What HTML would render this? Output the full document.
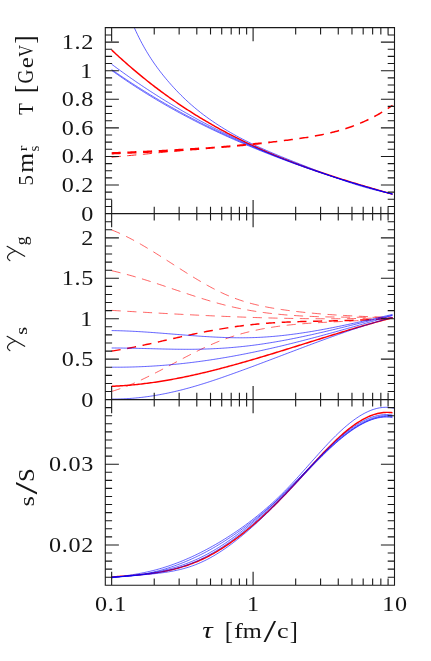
<!DOCTYPE html>
<html><head><meta charset="utf-8"><title>chart</title>
<style>
html,body{margin:0;padding:0;background:#fff;}
body{width:431px;height:661px;overflow:hidden;}
svg{display:block;font-family:"Liberation Serif",serif;}
</style></head><body>
<svg width="431" height="661" viewBox="0 0 431 661">
<defs>
<clipPath id="d1"><rect x="0" y="0" width="205" height="661"/></clipPath>
<clipPath id="d2"><rect x="205" y="0" width="65" height="661"/></clipPath>
<clipPath id="d3"><rect x="270" y="0" width="200" height="661"/></clipPath>
<clipPath id="c1"><rect x="105.3" y="27.6" width="289.2" height="186.0"/></clipPath>
</defs>
<rect width="431" height="661" fill="#fff"/>
<g fill="none" stroke-linecap="butt" stroke-linejoin="round">
<path d="M111.65 49.95L113.15 51.36L114.65 52.77L116.16 54.16L117.66 55.55L119.16 56.92L120.66 58.28L122.16 59.64L123.66 60.98L125.17 62.32L126.67 63.65L128.17 64.96L129.67 66.27L131.17 67.56L132.68 68.85L134.18 70.13L135.68 71.40L137.18 72.66L138.68 73.90L140.19 75.14L141.69 76.38L143.19 77.60L144.69 78.81L146.19 80.01L147.69 81.21L149.20 82.40L150.70 83.57L152.20 84.74L153.70 85.90L155.20 87.05L156.71 88.19L158.21 89.33L159.71 90.45L161.21 91.57L162.71 92.67L164.22 93.77L165.72 94.87L167.22 95.95L168.72 97.02L170.22 98.09L171.72 99.15L173.23 100.20L174.73 101.24L176.23 102.27L177.73 103.30L179.23 104.32L180.74 105.33L182.24 106.33L183.74 107.32L185.24 108.31L186.74 109.29L188.25 110.26L189.75 111.23L191.25 112.18L192.75 113.13L194.25 114.08L195.75 115.01L197.26 115.94L198.76 116.86L200.26 117.77L201.76 118.68L203.26 119.58L204.77 120.47L206.27 121.35L207.77 122.23L209.27 123.10L210.77 123.97L212.28 124.83L213.78 125.68L215.28 126.52L216.78 127.36L218.28 128.19L219.78 129.02L221.29 129.83L222.79 130.65L224.29 131.45L225.79 132.25L227.29 133.04L228.80 133.83L230.30 134.61L231.80 135.39L233.30 136.16L234.80 136.92L236.31 137.68L237.81 138.43L239.31 139.17L240.81 139.91L242.31 140.65L243.81 141.37L245.32 142.10L246.82 142.81L248.32 143.53L249.82 144.23L251.32 144.93L252.83 145.63L254.33 146.32L255.83 147.00L257.33 147.68L258.83 148.36L260.34 149.03L261.84 149.69L263.34 150.35L264.84 151.01L266.34 151.66L267.84 152.30L269.35 152.94L270.85 153.58L272.35 154.21L273.85 154.84L275.35 155.46L276.86 156.08L278.36 156.69L279.86 157.30L281.36 157.90L282.86 158.50L284.37 159.10L285.87 159.69L287.37 160.28L288.87 160.86L290.37 161.44L291.87 162.01L293.38 162.59L294.88 163.15L296.38 163.72L297.88 164.28L299.38 164.83L300.89 165.39L302.39 165.93L303.89 166.48L305.39 167.02L306.89 167.56L308.40 168.10L309.90 168.63L311.40 169.16L312.90 169.68L314.40 170.20L315.90 170.72L317.41 171.24L318.91 171.75L320.41 172.26L321.91 172.77L323.41 173.27L324.92 173.77L326.42 174.27L327.92 174.77L329.42 175.26L330.92 175.75L332.43 176.24L333.93 176.72L335.43 177.21L336.93 177.69L338.43 178.17L339.93 178.64L341.44 179.12L342.94 179.59L344.44 180.06L345.94 180.52L347.44 180.99L348.95 181.45L350.45 181.91L351.95 182.37L353.45 182.83L354.95 183.29L356.46 183.74L357.96 184.19L359.46 184.64L360.96 185.09L362.46 185.54L363.96 185.99L365.47 186.43L366.97 186.88L368.47 187.32L369.97 187.76L371.47 188.20L372.98 188.64L374.48 189.07L375.98 189.51L377.48 189.95L378.98 190.38L380.49 190.81L381.99 191.25L383.49 191.68L384.99 192.11L386.49 192.54L387.99 192.97L389.50 193.40L391.00 193.83L392.50 194.26" stroke="#ff0000" stroke-width="1.45" clip-path="url(#c1)"/>
<path d="M131.50 21.19L133.00 24.73L134.50 28.13L136.00 31.42L137.50 34.58L139.00 37.64L140.50 40.58L142.00 43.42L143.50 46.17L145.00 48.82L146.50 51.38L148.00 53.87L149.50 56.27L151.00 58.60L152.50 60.87L154.00 63.07L155.50 65.20L157.00 67.28L158.50 69.31L160.00 71.29L161.50 73.22L163.00 75.11L164.50 76.96L166.00 78.77L167.50 80.55L169.00 82.30L170.50 84.02L172.00 85.71L173.50 87.36L175.00 88.98L176.50 90.58L178.00 92.14L179.50 93.68L181.00 95.18L182.50 96.66L184.00 98.11L185.50 99.54L187.00 100.94L188.50 102.31L190.00 103.66L191.50 104.98L193.00 106.28L194.50 107.56L196.00 108.81L197.50 110.04L199.00 111.25L200.50 112.44L202.00 113.60L203.50 114.75L205.00 115.88L206.50 116.98L208.00 118.07L209.50 119.14L211.00 120.20L212.50 121.24L214.00 122.26L215.50 123.26L217.00 124.25L218.50 125.22L220.00 126.19L221.50 127.13L223.00 128.07L224.50 128.99L226.00 129.89L227.50 130.79L229.00 131.67L230.50 132.54L232.00 133.40L233.50 134.25L235.00 135.08L236.50 135.91L238.00 136.72L239.50 137.52L241.00 138.32L242.50 139.10L244.00 139.87L245.50 140.63L247.00 141.39L248.50 142.13L250.00 142.87L251.50 143.60L253.00 144.32L254.50 145.03L256.00 145.73L257.50 146.43L259.00 147.12L260.50 147.80L262.00 148.47L263.50 149.14L265.00 149.80L266.50 150.46L268.00 151.11L269.50 151.75L271.00 152.39L272.50 153.03L274.00 153.66L275.50 154.28L277.00 154.91L278.50 155.52L280.00 156.14L281.50 156.75L283.00 157.35L284.50 157.96L286.00 158.56L287.50 159.16L289.00 159.76L290.50 160.35L292.00 160.95L293.50 161.54L295.00 162.13L296.50 162.72L298.00 163.31L299.50 163.90L301.00 164.49L302.50 165.07L304.00 165.66L305.50 166.25L307.00 166.84L308.50 167.42L310.00 168.01L311.50 168.59L313.00 169.18L314.50 169.76L316.00 170.34L317.50 170.92L319.00 171.49L320.50 172.07L322.00 172.64L323.50 173.21L325.00 173.77L326.50 174.34L328.00 174.90L329.50 175.45L331.00 176.01L332.50 176.56L334.00 177.10L335.50 177.65L337.00 178.18L338.50 178.72L340.00 179.25L341.50 179.77L343.00 180.29L344.50 180.81L346.00 181.32L347.50 181.82L349.00 182.32L350.50 182.82L352.00 183.31L353.50 183.79L355.00 184.27L356.50 184.74L358.00 185.20L359.50 185.66L361.00 186.11L362.50 186.55L364.00 186.99L365.50 187.41L367.00 187.84L368.50 188.25L370.00 188.66L371.50 189.05L373.00 189.44L374.50 189.82L376.00 190.20L377.50 190.56L379.00 190.92L380.50 191.26L382.00 191.60L383.50 191.93L385.00 192.25L386.50 192.55L388.00 192.85L389.50 193.14L391.00 193.42L392.50 193.69" stroke="#0000ff" stroke-width="0.62" clip-path="url(#c1)"/>
<path d="M111.65 64.21L113.15 65.33L114.65 66.45L116.16 67.56L117.66 68.67L119.16 69.77L120.66 70.86L122.16 71.95L123.66 73.03L125.17 74.10L126.67 75.17L128.17 76.23L129.67 77.29L131.17 78.34L132.68 79.39L134.18 80.43L135.68 81.46L137.18 82.49L138.68 83.51L140.19 84.53L141.69 85.54L143.19 86.55L144.69 87.55L146.19 88.54L147.69 89.53L149.20 90.51L150.70 91.49L152.20 92.46L153.70 93.43L155.20 94.39L156.71 95.35L158.21 96.30L159.71 97.24L161.21 98.18L162.71 99.11L164.22 100.04L165.72 100.97L167.22 101.89L168.72 102.80L170.22 103.71L171.72 104.61L173.23 105.51L174.73 106.40L176.23 107.29L177.73 108.17L179.23 109.05L180.74 109.92L182.24 110.78L183.74 111.65L185.24 112.50L186.74 113.36L188.25 114.20L189.75 115.05L191.25 115.88L192.75 116.72L194.25 117.54L195.75 118.37L197.26 119.18L198.76 120.00L200.26 120.81L201.76 121.61L203.26 122.41L204.77 123.21L206.27 124.00L207.77 124.78L209.27 125.56L210.77 126.34L212.28 127.11L213.78 127.88L215.28 128.64L216.78 129.40L218.28 130.15L219.78 130.90L221.29 131.65L222.79 132.39L224.29 133.13L225.79 133.86L227.29 134.59L228.80 135.31L230.30 136.03L231.80 136.75L233.30 137.46L234.80 138.16L236.31 138.87L237.81 139.57L239.31 140.26L240.81 140.95L242.31 141.64L243.81 142.32L245.32 143.00L246.82 143.67L248.32 144.35L249.82 145.01L251.32 145.68L252.83 146.33L254.33 146.99L255.83 147.64L257.33 148.29L258.83 148.93L260.34 149.57L261.84 150.21L263.34 150.84L264.84 151.47L266.34 152.10L267.84 152.72L269.35 153.34L270.85 153.95L272.35 154.56L273.85 155.17L275.35 155.78L276.86 156.38L278.36 156.97L279.86 157.57L281.36 158.16L282.86 158.75L284.37 159.33L285.87 159.91L287.37 160.49L288.87 161.06L290.37 161.63L291.87 162.20L293.38 162.76L294.88 163.32L296.38 163.88L297.88 164.44L299.38 164.99L300.89 165.54L302.39 166.08L303.89 166.63L305.39 167.17L306.89 167.70L308.40 168.24L309.90 168.77L311.40 169.30L312.90 169.82L314.40 170.34L315.90 170.86L317.41 171.38L318.91 171.89L320.41 172.40L321.91 172.91L323.41 173.42L324.92 173.92L326.42 174.42L327.92 174.92L329.42 175.41L330.92 175.91L332.43 176.40L333.93 176.88L335.43 177.37L336.93 177.85L338.43 178.33L339.93 178.81L341.44 179.28L342.94 179.76L344.44 180.23L345.94 180.69L347.44 181.16L348.95 181.62L350.45 182.09L351.95 182.54L353.45 183.00L354.95 183.46L356.46 183.91L357.96 184.36L359.46 184.81L360.96 185.25L362.46 185.70L363.96 186.14L365.47 186.58L366.97 187.02L368.47 187.45L369.97 187.89L371.47 188.32L372.98 188.75L374.48 189.18L375.98 189.61L377.48 190.03L378.98 190.45L380.49 190.87L381.99 191.29L383.49 191.71L384.99 192.13L386.49 192.54L387.99 192.95L389.50 193.37L391.00 193.78L392.50 194.18" stroke="#0000ff" stroke-width="0.62" clip-path="url(#c1)"/>
<path d="M111.65 69.55L113.15 70.60L114.65 71.65L116.16 72.69L117.66 73.72L119.16 74.75L120.66 75.77L122.16 76.79L123.66 77.80L125.17 78.80L126.67 79.80L128.17 80.80L129.67 81.79L131.17 82.77L132.68 83.75L134.18 84.72L135.68 85.69L137.18 86.65L138.68 87.61L140.19 88.56L141.69 89.50L143.19 90.44L144.69 91.38L146.19 92.31L147.69 93.24L149.20 94.16L150.70 95.07L152.20 95.98L153.70 96.89L155.20 97.79L156.71 98.68L158.21 99.57L159.71 100.45L161.21 101.33L162.71 102.21L164.22 103.08L165.72 103.95L167.22 104.81L168.72 105.66L170.22 106.51L171.72 107.36L173.23 108.20L174.73 109.04L176.23 109.87L177.73 110.70L179.23 111.52L180.74 112.34L182.24 113.16L183.74 113.97L185.24 114.77L186.74 115.58L188.25 116.37L189.75 117.17L191.25 117.95L192.75 118.74L194.25 119.52L195.75 120.29L197.26 121.07L198.76 121.83L200.26 122.60L201.76 123.35L203.26 124.11L204.77 124.86L206.27 125.61L207.77 126.35L209.27 127.09L210.77 127.82L212.28 128.56L213.78 129.28L215.28 130.01L216.78 130.73L218.28 131.44L219.78 132.15L221.29 132.86L222.79 133.57L224.29 134.27L225.79 134.96L227.29 135.66L228.80 136.35L230.30 137.03L231.80 137.72L233.30 138.40L234.80 139.07L236.31 139.75L237.81 140.41L239.31 141.08L240.81 141.74L242.31 142.40L243.81 143.06L245.32 143.71L246.82 144.36L248.32 145.01L249.82 145.65L251.32 146.29L252.83 146.93L254.33 147.56L255.83 148.19L257.33 148.82L258.83 149.44L260.34 150.06L261.84 150.68L263.34 151.30L264.84 151.91L266.34 152.52L267.84 153.13L269.35 153.73L270.85 154.33L272.35 154.93L273.85 155.52L275.35 156.11L276.86 156.70L278.36 157.29L279.86 157.87L281.36 158.45L282.86 159.03L284.37 159.60L285.87 160.18L287.37 160.74L288.87 161.31L290.37 161.87L291.87 162.43L293.38 162.99L294.88 163.55L296.38 164.10L297.88 164.65L299.38 165.19L300.89 165.74L302.39 166.28L303.89 166.82L305.39 167.35L306.89 167.88L308.40 168.42L309.90 168.94L311.40 169.47L312.90 169.99L314.40 170.51L315.90 171.03L317.41 171.54L318.91 172.05L320.41 172.56L321.91 173.07L323.41 173.57L324.92 174.07L326.42 174.57L327.92 175.07L329.42 175.56L330.92 176.05L332.43 176.54L333.93 177.03L335.43 177.51L336.93 177.99L338.43 178.47L339.93 178.95L341.44 179.42L342.94 179.89L344.44 180.36L345.94 180.83L347.44 181.29L348.95 181.75L350.45 182.21L351.95 182.67L353.45 183.12L354.95 183.57L356.46 184.02L357.96 184.47L359.46 184.91L360.96 185.36L362.46 185.80L363.96 186.23L365.47 186.67L366.97 187.10L368.47 187.53L369.97 187.96L371.47 188.39L372.98 188.81L374.48 189.24L375.98 189.66L377.48 190.07L378.98 190.49L380.49 190.90L381.99 191.31L383.49 191.72L384.99 192.13L386.49 192.53L387.99 192.94L389.50 193.34L391.00 193.73L392.50 194.13" stroke="#0000ff" stroke-width="0.62" clip-path="url(#c1)"/>
<path d="M111.65 70.41L113.15 71.48L114.65 72.54L116.16 73.60L117.66 74.65L119.16 75.69L120.66 76.73L122.16 77.77L123.66 78.79L125.17 79.81L126.67 80.82L128.17 81.83L129.67 82.83L131.17 83.83L132.68 84.82L134.18 85.80L135.68 86.77L137.18 87.75L138.68 88.71L140.19 89.67L141.69 90.62L143.19 91.57L144.69 92.51L146.19 93.45L147.69 94.38L149.20 95.30L150.70 96.22L152.20 97.14L153.70 98.04L155.20 98.95L156.71 99.84L158.21 100.73L159.71 101.62L161.21 102.50L162.71 103.38L164.22 104.25L165.72 105.11L167.22 105.97L168.72 106.83L170.22 107.68L171.72 108.52L173.23 109.36L174.73 110.19L176.23 111.02L177.73 111.85L179.23 112.67L180.74 113.48L182.24 114.29L183.74 115.10L185.24 115.90L186.74 116.69L188.25 117.48L189.75 118.27L191.25 119.05L192.75 119.83L194.25 120.60L195.75 121.37L197.26 122.13L198.76 122.89L200.26 123.64L201.76 124.39L203.26 125.14L204.77 125.88L206.27 126.62L207.77 127.35L209.27 128.08L210.77 128.80L212.28 129.52L213.78 130.24L215.28 130.95L216.78 131.66L218.28 132.36L219.78 133.06L221.29 133.76L222.79 134.45L224.29 135.14L225.79 135.83L227.29 136.51L228.80 137.19L230.30 137.86L231.80 138.53L233.30 139.20L234.80 139.86L236.31 140.52L237.81 141.18L239.31 141.83L240.81 142.48L242.31 143.13L243.81 143.77L245.32 144.41L246.82 145.04L248.32 145.68L249.82 146.31L251.32 146.93L252.83 147.56L254.33 148.18L255.83 148.79L257.33 149.41L258.83 150.02L260.34 150.63L261.84 151.23L263.34 151.83L264.84 152.43L266.34 153.03L267.84 153.62L269.35 154.21L270.85 154.80L272.35 155.39L273.85 155.97L275.35 156.55L276.86 157.12L278.36 157.70L279.86 158.27L281.36 158.84L282.86 159.40L284.37 159.96L285.87 160.52L287.37 161.08L288.87 161.63L290.37 162.19L291.87 162.73L293.38 163.28L294.88 163.82L296.38 164.36L297.88 164.90L299.38 165.44L300.89 165.97L302.39 166.50L303.89 167.03L305.39 167.55L306.89 168.08L308.40 168.60L309.90 169.12L311.40 169.63L312.90 170.14L314.40 170.65L315.90 171.16L317.41 171.67L318.91 172.17L320.41 172.67L321.91 173.17L323.41 173.66L324.92 174.16L326.42 174.65L327.92 175.14L329.42 175.62L330.92 176.11L332.43 176.59L333.93 177.07L335.43 177.55L336.93 178.02L338.43 178.49L339.93 178.96L341.44 179.43L342.94 179.90L344.44 180.36L345.94 180.82L347.44 181.28L348.95 181.74L350.45 182.20L351.95 182.65L353.45 183.10L354.95 183.55L356.46 184.00L357.96 184.44L359.46 184.89L360.96 185.33L362.46 185.77L363.96 186.20L365.47 186.64L366.97 187.07L368.47 187.50L369.97 187.93L371.47 188.36L372.98 188.78L374.48 189.21L375.98 189.63L377.48 190.05L378.98 190.47L380.49 190.88L381.99 191.30L383.49 191.71L384.99 192.12L386.49 192.53L387.99 192.94L389.50 193.34L391.00 193.75L392.50 194.15" stroke="#0000ff" stroke-width="0.62" clip-path="url(#c1)"/>
<path d="M111.65 153.30L113.15 153.24L114.65 153.18L116.16 153.12L117.66 153.06L119.16 153.00L120.66 152.94L122.16 152.88L123.66 152.81L125.17 152.75L126.67 152.69L128.17 152.62L129.67 152.56L131.17 152.49L132.68 152.43L134.18 152.36L135.68 152.29L137.18 152.23L138.68 152.16L140.19 152.09L141.69 152.02L143.19 151.95L144.69 151.88L146.19 151.81L147.69 151.73L149.20 151.66L150.70 151.59L152.20 151.51L153.70 151.44L155.20 151.36L156.71 151.28L158.21 151.21L159.71 151.13L161.21 151.05L162.71 150.97L164.22 150.89L165.72 150.81L167.22 150.72L168.72 150.64L170.22 150.56L171.72 150.47L173.23 150.38L174.73 150.30L176.23 150.21L177.73 150.12L179.23 150.03L180.74 149.94L182.24 149.84L183.74 149.75L185.24 149.66L186.74 149.56L188.25 149.47L189.75 149.37L191.25 149.27L192.75 149.17L194.25 149.07L195.75 148.97L197.26 148.86L198.76 148.76L200.26 148.66L201.76 148.55L203.26 148.44L204.77 148.33L206.27 148.22L207.77 148.11L209.27 148.00L210.77 147.89L212.28 147.77L213.78 147.65L215.28 147.54L216.78 147.42L218.28 147.30L219.78 147.18L221.29 147.05L222.79 146.93L224.29 146.80L225.79 146.68L227.29 146.55L228.80 146.42L230.30 146.29L231.80 146.16L233.30 146.02L234.80 145.89L236.31 145.75L237.81 145.61L239.31 145.47L240.81 145.33L242.31 145.19L243.81 145.04L245.32 144.90L246.82 144.75L248.32 144.60L249.82 144.45L251.32 144.30L252.83 144.15L254.33 143.99L255.83 143.83L257.33 143.68L258.83 143.52L260.34 143.35L261.84 143.19L263.34 143.02L264.84 142.86L266.34 142.69L267.84 142.52L269.35 142.35L270.85 142.17L272.35 142.00L273.85 141.82L275.35 141.64L276.86 141.46L278.36 141.28L279.86 141.09L281.36 140.91L282.86 140.72L284.37 140.53L285.87 140.34L287.37 140.14L288.87 139.95L290.37 139.75L291.87 139.55L293.38 139.35L294.88 139.14L296.38 138.94L297.88 138.73L299.38 138.51L300.89 138.30L302.39 138.08L303.89 137.85L305.39 137.62L306.89 137.39L308.40 137.15L309.90 136.90L311.40 136.65L312.90 136.39L314.40 136.13L315.90 135.86L317.41 135.58L318.91 135.29L320.41 135.00L321.91 134.70L323.41 134.39L324.92 134.07L326.42 133.74L327.92 133.40L329.42 133.06L330.92 132.70L332.43 132.33L333.93 131.95L335.43 131.56L336.93 131.16L338.43 130.75L339.93 130.32L341.44 129.88L342.94 129.43L344.44 128.97L345.94 128.50L347.44 128.00L348.95 127.50L350.45 126.98L351.95 126.45L353.45 125.90L354.95 125.34L356.46 124.76L357.96 124.16L359.46 123.55L360.96 122.93L362.46 122.28L363.96 121.62L365.47 120.94L366.97 120.24L368.47 119.53L369.97 118.80L371.47 118.04L372.98 117.27L374.48 116.48L375.98 115.67L377.48 114.84L378.98 113.99L380.49 113.11L381.99 112.22L383.49 111.31L384.99 110.37L386.49 109.41L387.99 108.43L389.50 107.43L391.00 106.40L392.50 105.35" stroke="#ff0000" stroke-width="2.35" stroke-dasharray="9.1 6.6" clip-path="url(#d1)"/>
<path d="M111.65 153.30L113.15 153.24L114.65 153.18L116.16 153.12L117.66 153.06L119.16 153.00L120.66 152.94L122.16 152.88L123.66 152.81L125.17 152.75L126.67 152.69L128.17 152.62L129.67 152.56L131.17 152.49L132.68 152.43L134.18 152.36L135.68 152.29L137.18 152.23L138.68 152.16L140.19 152.09L141.69 152.02L143.19 151.95L144.69 151.88L146.19 151.81L147.69 151.73L149.20 151.66L150.70 151.59L152.20 151.51L153.70 151.44L155.20 151.36L156.71 151.28L158.21 151.21L159.71 151.13L161.21 151.05L162.71 150.97L164.22 150.89L165.72 150.81L167.22 150.72L168.72 150.64L170.22 150.56L171.72 150.47L173.23 150.38L174.73 150.30L176.23 150.21L177.73 150.12L179.23 150.03L180.74 149.94L182.24 149.84L183.74 149.75L185.24 149.66L186.74 149.56L188.25 149.47L189.75 149.37L191.25 149.27L192.75 149.17L194.25 149.07L195.75 148.97L197.26 148.86L198.76 148.76L200.26 148.66L201.76 148.55L203.26 148.44L204.77 148.33L206.27 148.22L207.77 148.11L209.27 148.00L210.77 147.89L212.28 147.77L213.78 147.65L215.28 147.54L216.78 147.42L218.28 147.30L219.78 147.18L221.29 147.05L222.79 146.93L224.29 146.80L225.79 146.68L227.29 146.55L228.80 146.42L230.30 146.29L231.80 146.16L233.30 146.02L234.80 145.89L236.31 145.75L237.81 145.61L239.31 145.47L240.81 145.33L242.31 145.19L243.81 145.04L245.32 144.90L246.82 144.75L248.32 144.60L249.82 144.45L251.32 144.30L252.83 144.15L254.33 143.99L255.83 143.83L257.33 143.68L258.83 143.52L260.34 143.35L261.84 143.19L263.34 143.02L264.84 142.86L266.34 142.69L267.84 142.52L269.35 142.35L270.85 142.17L272.35 142.00L273.85 141.82L275.35 141.64L276.86 141.46L278.36 141.28L279.86 141.09L281.36 140.91L282.86 140.72L284.37 140.53L285.87 140.34L287.37 140.14L288.87 139.95L290.37 139.75L291.87 139.55L293.38 139.35L294.88 139.14L296.38 138.94L297.88 138.73L299.38 138.51L300.89 138.30L302.39 138.08L303.89 137.85L305.39 137.62L306.89 137.39L308.40 137.15L309.90 136.90L311.40 136.65L312.90 136.39L314.40 136.13L315.90 135.86L317.41 135.58L318.91 135.29L320.41 135.00L321.91 134.70L323.41 134.39L324.92 134.07L326.42 133.74L327.92 133.40L329.42 133.06L330.92 132.70L332.43 132.33L333.93 131.95L335.43 131.56L336.93 131.16L338.43 130.75L339.93 130.32L341.44 129.88L342.94 129.43L344.44 128.97L345.94 128.50L347.44 128.00L348.95 127.50L350.45 126.98L351.95 126.45L353.45 125.90L354.95 125.34L356.46 124.76L357.96 124.16L359.46 123.55L360.96 122.93L362.46 122.28L363.96 121.62L365.47 120.94L366.97 120.24L368.47 119.53L369.97 118.80L371.47 118.04L372.98 117.27L374.48 116.48L375.98 115.67L377.48 114.84L378.98 113.99L380.49 113.11L381.99 112.22L383.49 111.31L384.99 110.37L386.49 109.41L387.99 108.43L389.50 107.43L391.00 106.40L392.50 105.35" stroke="#ff0000" stroke-width="1.95" stroke-dasharray="9.1 6.6" clip-path="url(#d2)"/>
<path d="M111.65 153.30L113.15 153.24L114.65 153.18L116.16 153.12L117.66 153.06L119.16 153.00L120.66 152.94L122.16 152.88L123.66 152.81L125.17 152.75L126.67 152.69L128.17 152.62L129.67 152.56L131.17 152.49L132.68 152.43L134.18 152.36L135.68 152.29L137.18 152.23L138.68 152.16L140.19 152.09L141.69 152.02L143.19 151.95L144.69 151.88L146.19 151.81L147.69 151.73L149.20 151.66L150.70 151.59L152.20 151.51L153.70 151.44L155.20 151.36L156.71 151.28L158.21 151.21L159.71 151.13L161.21 151.05L162.71 150.97L164.22 150.89L165.72 150.81L167.22 150.72L168.72 150.64L170.22 150.56L171.72 150.47L173.23 150.38L174.73 150.30L176.23 150.21L177.73 150.12L179.23 150.03L180.74 149.94L182.24 149.84L183.74 149.75L185.24 149.66L186.74 149.56L188.25 149.47L189.75 149.37L191.25 149.27L192.75 149.17L194.25 149.07L195.75 148.97L197.26 148.86L198.76 148.76L200.26 148.66L201.76 148.55L203.26 148.44L204.77 148.33L206.27 148.22L207.77 148.11L209.27 148.00L210.77 147.89L212.28 147.77L213.78 147.65L215.28 147.54L216.78 147.42L218.28 147.30L219.78 147.18L221.29 147.05L222.79 146.93L224.29 146.80L225.79 146.68L227.29 146.55L228.80 146.42L230.30 146.29L231.80 146.16L233.30 146.02L234.80 145.89L236.31 145.75L237.81 145.61L239.31 145.47L240.81 145.33L242.31 145.19L243.81 145.04L245.32 144.90L246.82 144.75L248.32 144.60L249.82 144.45L251.32 144.30L252.83 144.15L254.33 143.99L255.83 143.83L257.33 143.68L258.83 143.52L260.34 143.35L261.84 143.19L263.34 143.02L264.84 142.86L266.34 142.69L267.84 142.52L269.35 142.35L270.85 142.17L272.35 142.00L273.85 141.82L275.35 141.64L276.86 141.46L278.36 141.28L279.86 141.09L281.36 140.91L282.86 140.72L284.37 140.53L285.87 140.34L287.37 140.14L288.87 139.95L290.37 139.75L291.87 139.55L293.38 139.35L294.88 139.14L296.38 138.94L297.88 138.73L299.38 138.51L300.89 138.30L302.39 138.08L303.89 137.85L305.39 137.62L306.89 137.39L308.40 137.15L309.90 136.90L311.40 136.65L312.90 136.39L314.40 136.13L315.90 135.86L317.41 135.58L318.91 135.29L320.41 135.00L321.91 134.70L323.41 134.39L324.92 134.07L326.42 133.74L327.92 133.40L329.42 133.06L330.92 132.70L332.43 132.33L333.93 131.95L335.43 131.56L336.93 131.16L338.43 130.75L339.93 130.32L341.44 129.88L342.94 129.43L344.44 128.97L345.94 128.50L347.44 128.00L348.95 127.50L350.45 126.98L351.95 126.45L353.45 125.90L354.95 125.34L356.46 124.76L357.96 124.16L359.46 123.55L360.96 122.93L362.46 122.28L363.96 121.62L365.47 120.94L366.97 120.24L368.47 119.53L369.97 118.80L371.47 118.04L372.98 117.27L374.48 116.48L375.98 115.67L377.48 114.84L378.98 113.99L380.49 113.11L381.99 112.22L383.49 111.31L384.99 110.37L386.49 109.41L387.99 108.43L389.50 107.43L391.00 106.40L392.50 105.35" stroke="#ff0000" stroke-width="1.5" stroke-dasharray="9.1 6.6" clip-path="url(#d3)"/>
<path d="M111.65 157.20L113.18 157.06L114.71 156.91L116.23 156.77L117.76 156.63L119.29 156.48L120.82 156.34L122.35 156.20L123.88 156.06L125.40 155.91L126.93 155.77L128.46 155.63L129.99 155.49L131.52 155.34L133.04 155.20L134.57 155.06L136.10 154.92L137.63 154.78L139.16 154.64L140.68 154.49L142.21 154.35L143.74 154.21L145.27 154.06L146.80 153.91L148.32 153.77L149.85 153.61L151.38 153.46L152.91 153.31L154.44 153.15L155.97 153.00L157.49 152.84L159.02 152.69L160.55 152.53L162.08 152.38L163.61 152.23L165.13 152.09L166.66 151.94L168.19 151.80L169.72 151.67L171.25 151.53L172.78 151.40L174.30 151.27L175.83 151.14L177.36 151.02L178.89 150.89L180.42 150.77L181.94 150.65L183.47 150.52L185.00 150.40" stroke="#ff0000" stroke-width="0.9" stroke-dasharray="9.1 6.6"/>
<path d="M111.65 229.93L113.15 230.53L114.65 231.14L116.16 231.77L117.66 232.42L119.16 233.08L120.66 233.76L122.16 234.46L123.66 235.18L125.17 235.90L126.67 236.65L128.17 237.41L129.67 238.18L131.17 238.96L132.68 239.76L134.18 240.57L135.68 241.39L137.18 242.22L138.68 243.07L140.19 243.92L141.69 244.79L143.19 245.66L144.69 246.55L146.19 247.44L147.69 248.34L149.20 249.25L150.70 250.16L152.20 251.08L153.70 252.01L155.20 252.94L156.71 253.88L158.21 254.83L159.71 255.77L161.21 256.73L162.71 257.68L164.22 258.64L165.72 259.60L167.22 260.56L168.72 261.53L170.22 262.49L171.72 263.46L173.23 264.42L174.73 265.39L176.23 266.35L177.73 267.32L179.23 268.28L180.74 269.24L182.24 270.19L183.74 271.15L185.24 272.10L186.74 273.04L188.25 273.98L189.75 274.92L191.25 275.85L192.75 276.77L194.25 277.69L195.75 278.60L197.26 279.50L198.76 280.40L200.26 281.28L201.76 282.16L203.26 283.03L204.77 283.89L206.27 284.74L207.77 285.58L209.27 286.40L210.77 287.22L212.28 288.02L213.78 288.81L215.28 289.58L216.78 290.35L218.28 291.10L219.78 291.83L221.29 292.55L222.79 293.25L224.29 293.94L225.79 294.61L227.29 295.27L228.80 295.90L230.30 296.52L231.80 297.13L233.30 297.71L234.80 298.28L236.31 298.83L237.81 299.36L239.31 299.88L240.81 300.39L242.31 300.88L243.81 301.35L245.32 301.81L246.82 302.26L248.32 302.69L249.82 303.11L251.32 303.52L252.83 303.91L254.33 304.29L255.83 304.67L257.33 305.02L258.83 305.37L260.34 305.71L261.84 306.04L263.34 306.35L264.84 306.66L266.34 306.96L267.84 307.25L269.35 307.53L270.85 307.80L272.35 308.06L273.85 308.32L275.35 308.57L276.86 308.81L278.36 309.05L279.86 309.28L281.36 309.50L282.86 309.72L284.37 309.93L285.87 310.14L287.37 310.35L288.87 310.55L290.37 310.75L291.87 310.94L293.38 311.13L294.88 311.31L296.38 311.49L297.88 311.66L299.38 311.84L300.89 312.00L302.39 312.17L303.89 312.33L305.39 312.48L306.89 312.64L308.40 312.79L309.90 312.93L311.40 313.07L312.90 313.21L314.40 313.35L315.90 313.48L317.41 313.61L318.91 313.74L320.41 313.86L321.91 313.98L323.41 314.10L324.92 314.22L326.42 314.33L327.92 314.44L329.42 314.54L330.92 314.65L332.43 314.75L333.93 314.85L335.43 314.95L336.93 315.04L338.43 315.14L339.93 315.23L341.44 315.31L342.94 315.40L344.44 315.49L345.94 315.57L347.44 315.65L348.95 315.73L350.45 315.81L351.95 315.88L353.45 315.96L354.95 316.03L356.46 316.10L357.96 316.17L359.46 316.24L360.96 316.31L362.46 316.38L363.96 316.44L365.47 316.51L366.97 316.57L368.47 316.63L369.97 316.69L371.47 316.76L372.98 316.82L374.48 316.88L375.98 316.94L377.48 316.99L378.98 317.05L380.49 317.11L381.99 317.17L383.49 317.23L384.99 317.29L386.49 317.34L387.99 317.40L389.50 317.46L391.00 317.52L392.50 317.57" stroke="#ff0000" stroke-width="0.62" stroke-dasharray="9.1 6.6"/>
<path d="M111.65 270.71L113.15 271.04L114.65 271.39L116.16 271.74L117.66 272.10L119.16 272.46L120.66 272.84L122.16 273.22L123.66 273.61L125.17 274.01L126.67 274.41L128.17 274.82L129.67 275.23L131.17 275.65L132.68 276.08L134.18 276.51L135.68 276.95L137.18 277.40L138.68 277.84L140.19 278.30L141.69 278.76L143.19 279.22L144.69 279.69L146.19 280.16L147.69 280.63L149.20 281.11L150.70 281.59L152.20 282.07L153.70 282.56L155.20 283.05L156.71 283.54L158.21 284.04L159.71 284.53L161.21 285.03L162.71 285.53L164.22 286.04L165.72 286.54L167.22 287.04L168.72 287.55L170.22 288.05L171.72 288.56L173.23 289.07L174.73 289.57L176.23 290.08L177.73 290.58L179.23 291.09L180.74 291.59L182.24 292.10L183.74 292.60L185.24 293.10L186.74 293.60L188.25 294.10L189.75 294.59L191.25 295.08L192.75 295.57L194.25 296.06L195.75 296.55L197.26 297.03L198.76 297.51L200.26 297.98L201.76 298.45L203.26 298.92L204.77 299.38L206.27 299.84L207.77 300.29L209.27 300.74L210.77 301.19L212.28 301.63L213.78 302.06L215.28 302.49L216.78 302.91L218.28 303.33L219.78 303.74L221.29 304.14L222.79 304.54L224.29 304.93L225.79 305.31L227.29 305.68L228.80 306.05L230.30 306.41L231.80 306.77L233.30 307.11L234.80 307.45L236.31 307.78L237.81 308.10L239.31 308.41L240.81 308.72L242.31 309.02L243.81 309.31L245.32 309.59L246.82 309.87L248.32 310.14L249.82 310.41L251.32 310.66L252.83 310.91L254.33 311.16L255.83 311.39L257.33 311.62L258.83 311.85L260.34 312.07L261.84 312.28L263.34 312.49L264.84 312.69L266.34 312.88L267.84 313.07L269.35 313.25L270.85 313.43L272.35 313.60L273.85 313.76L275.35 313.93L276.86 314.08L278.36 314.23L279.86 314.38L281.36 314.52L282.86 314.65L284.37 314.78L285.87 314.91L287.37 315.03L288.87 315.15L290.37 315.26L291.87 315.37L293.38 315.47L294.88 315.57L296.38 315.67L297.88 315.76L299.38 315.85L300.89 315.93L302.39 316.01L303.89 316.09L305.39 316.16L306.89 316.23L308.40 316.30L309.90 316.36L311.40 316.42L312.90 316.48L314.40 316.54L315.90 316.59L317.41 316.64L318.91 316.68L320.41 316.73L321.91 316.77L323.41 316.81L324.92 316.84L326.42 316.88L327.92 316.91L329.42 316.94L330.92 316.97L332.43 316.99L333.93 317.02L335.43 317.04L336.93 317.06L338.43 317.08L339.93 317.10L341.44 317.12L342.94 317.13L344.44 317.15L345.94 317.16L347.44 317.17L348.95 317.18L350.45 317.20L351.95 317.21L353.45 317.22L354.95 317.23L356.46 317.23L357.96 317.24L359.46 317.25L360.96 317.26L362.46 317.27L363.96 317.28L365.47 317.29L366.97 317.29L368.47 317.30L369.97 317.31L371.47 317.32L372.98 317.34L374.48 317.35L375.98 317.36L377.48 317.37L378.98 317.39L380.49 317.40L381.99 317.42L383.49 317.44L384.99 317.46L386.49 317.48L387.99 317.50L389.50 317.52L391.00 317.55L392.50 317.58" stroke="#ff0000" stroke-width="0.62" stroke-dasharray="9.1 6.6"/>
<path d="M111.65 310.38L113.15 310.47L114.65 310.56L116.16 310.65L117.66 310.74L119.16 310.83L120.66 310.92L122.16 311.00L123.66 311.09L125.17 311.18L126.67 311.27L128.17 311.36L129.67 311.45L131.17 311.53L132.68 311.62L134.18 311.71L135.68 311.80L137.18 311.88L138.68 311.97L140.19 312.06L141.69 312.15L143.19 312.23L144.69 312.32L146.19 312.40L147.69 312.49L149.20 312.58L150.70 312.66L152.20 312.75L153.70 312.83L155.20 312.92L156.71 313.00L158.21 313.08L159.71 313.17L161.21 313.25L162.71 313.33L164.22 313.42L165.72 313.50L167.22 313.58L168.72 313.66L170.22 313.75L171.72 313.83L173.23 313.91L174.73 313.99L176.23 314.07L177.73 314.15L179.23 314.23L180.74 314.30L182.24 314.38L183.74 314.46L185.24 314.54L186.74 314.62L188.25 314.69L189.75 314.77L191.25 314.84L192.75 314.92L194.25 314.99L195.75 315.07L197.26 315.14L198.76 315.21L200.26 315.29L201.76 315.36L203.26 315.43L204.77 315.50L206.27 315.57L207.77 315.64L209.27 315.71L210.77 315.78L212.28 315.85L213.78 315.92L215.28 315.99L216.78 316.05L218.28 316.12L219.78 316.18L221.29 316.25L222.79 316.31L224.29 316.38L225.79 316.44L227.29 316.50L228.80 316.56L230.30 316.62L231.80 316.68L233.30 316.74L234.80 316.80L236.31 316.86L237.81 316.92L239.31 316.97L240.81 317.03L242.31 317.08L243.81 317.14L245.32 317.19L246.82 317.25L248.32 317.30L249.82 317.35L251.32 317.40L252.83 317.45L254.33 317.50L255.83 317.55L257.33 317.60L258.83 317.64L260.34 317.69L261.84 317.73L263.34 317.78L264.84 317.82L266.34 317.86L267.84 317.90L269.35 317.95L270.85 317.99L272.35 318.02L273.85 318.06L275.35 318.10L276.86 318.14L278.36 318.17L279.86 318.21L281.36 318.24L282.86 318.27L284.37 318.30L285.87 318.33L287.37 318.36L288.87 318.39L290.37 318.42L291.87 318.45L293.38 318.47L294.88 318.50L296.38 318.52L297.88 318.54L299.38 318.56L300.89 318.58L302.39 318.60L303.89 318.62L305.39 318.64L306.89 318.66L308.40 318.67L309.90 318.69L311.40 318.70L312.90 318.71L314.40 318.72L315.90 318.73L317.41 318.74L318.91 318.75L320.41 318.75L321.91 318.76L323.41 318.76L324.92 318.77L326.42 318.77L327.92 318.77L329.42 318.77L330.92 318.77L332.43 318.76L333.93 318.76L335.43 318.75L336.93 318.75L338.43 318.74L339.93 318.73L341.44 318.72L342.94 318.71L344.44 318.69L345.94 318.68L347.44 318.66L348.95 318.65L350.45 318.63L351.95 318.61L353.45 318.59L354.95 318.57L356.46 318.54L357.96 318.52L359.46 318.49L360.96 318.46L362.46 318.44L363.96 318.41L365.47 318.37L366.97 318.34L368.47 318.31L369.97 318.27L371.47 318.23L372.98 318.19L374.48 318.15L375.98 318.11L377.48 318.07L378.98 318.03L380.49 317.98L381.99 317.93L383.49 317.88L384.99 317.83L386.49 317.78L387.99 317.73L389.50 317.67L391.00 317.62L392.50 317.56" stroke="#ff0000" stroke-width="0.62" stroke-dasharray="9.1 6.6"/>
<path d="M111.65 391.42L113.15 390.97L114.65 390.50L116.16 390.02L117.66 389.52L119.16 389.01L120.66 388.48L122.16 387.93L123.66 387.37L125.17 386.80L126.67 386.21L128.17 385.61L129.67 385.00L131.17 384.38L132.68 383.74L134.18 383.09L135.68 382.43L137.18 381.76L138.68 381.08L140.19 380.39L141.69 379.69L143.19 378.98L144.69 378.27L146.19 377.54L147.69 376.81L149.20 376.07L150.70 375.32L152.20 374.57L153.70 373.81L155.20 373.04L156.71 372.27L158.21 371.50L159.71 370.72L161.21 369.94L162.71 369.15L164.22 368.37L165.72 367.57L167.22 366.78L168.72 365.99L170.22 365.19L171.72 364.39L173.23 363.60L174.73 362.80L176.23 362.00L177.73 361.21L179.23 360.41L180.74 359.62L182.24 358.83L183.74 358.04L185.24 357.25L186.74 356.47L188.25 355.70L189.75 354.92L191.25 354.15L192.75 353.39L194.25 352.63L195.75 351.88L197.26 351.13L198.76 350.40L200.26 349.66L201.76 348.94L203.26 348.23L204.77 347.52L206.27 346.82L207.77 346.13L209.27 345.45L210.77 344.79L212.28 344.13L213.78 343.48L215.28 342.85L216.78 342.22L218.28 341.61L219.78 341.02L221.29 340.43L222.79 339.86L224.29 339.30L225.79 338.75L227.29 338.22L228.80 337.70L230.30 337.19L231.80 336.69L233.30 336.21L234.80 335.73L236.31 335.27L237.81 334.82L239.31 334.38L240.81 333.95L242.31 333.53L243.81 333.13L245.32 332.73L246.82 332.34L248.32 331.97L249.82 331.60L251.32 331.24L252.83 330.90L254.33 330.56L255.83 330.23L257.33 329.91L258.83 329.60L260.34 329.30L261.84 329.01L263.34 328.73L264.84 328.45L266.34 328.18L267.84 327.92L269.35 327.67L270.85 327.43L272.35 327.19L273.85 326.96L275.35 326.74L276.86 326.52L278.36 326.31L279.86 326.11L281.36 325.92L282.86 325.73L284.37 325.55L285.87 325.37L287.37 325.20L288.87 325.03L290.37 324.87L291.87 324.72L293.38 324.57L294.88 324.42L296.38 324.28L297.88 324.15L299.38 324.02L300.89 323.89L302.39 323.77L303.89 323.65L305.39 323.54L306.89 323.43L308.40 323.32L309.90 323.22L311.40 323.11L312.90 323.02L314.40 322.92L315.90 322.83L317.41 322.74L318.91 322.65L320.41 322.57L321.91 322.48L323.41 322.40L324.92 322.32L326.42 322.24L327.92 322.16L329.42 322.09L330.92 322.01L332.43 321.94L333.93 321.87L335.43 321.79L336.93 321.72L338.43 321.65L339.93 321.57L341.44 321.50L342.94 321.43L344.44 321.35L345.94 321.28L347.44 321.20L348.95 321.13L350.45 321.05L351.95 320.97L353.45 320.89L354.95 320.81L356.46 320.72L357.96 320.63L359.46 320.55L360.96 320.46L362.46 320.36L363.96 320.27L365.47 320.17L366.97 320.06L368.47 319.96L369.97 319.85L371.47 319.74L372.98 319.62L374.48 319.50L375.98 319.38L377.48 319.25L378.98 319.12L380.49 318.98L381.99 318.84L383.49 318.69L384.99 318.54L386.49 318.38L387.99 318.22L389.50 318.05L391.00 317.88L392.50 317.70" stroke="#ff0000" stroke-width="0.62" stroke-dasharray="9.1 6.6"/>
<path d="M111.65 351.08L113.15 350.85L114.65 350.62L116.16 350.38L117.66 350.13L119.16 349.88L120.66 349.62L122.16 349.36L123.66 349.09L125.17 348.82L126.67 348.54L128.17 348.26L129.67 347.98L131.17 347.69L132.68 347.39L134.18 347.09L135.68 346.79L137.18 346.48L138.68 346.17L140.19 345.86L141.69 345.55L143.19 345.23L144.69 344.91L146.19 344.58L147.69 344.26L149.20 343.93L150.70 343.60L152.20 343.27L153.70 342.93L155.20 342.60L156.71 342.26L158.21 341.93L159.71 341.59L161.21 341.25L162.71 340.91L164.22 340.57L165.72 340.23L167.22 339.89L168.72 339.55L170.22 339.21L171.72 338.87L173.23 338.53L174.73 338.19L176.23 337.86L177.73 337.52L179.23 337.19L180.74 336.86L182.24 336.53L183.74 336.20L185.24 335.87L186.74 335.55L188.25 335.23L189.75 334.91L191.25 334.59L192.75 334.28L194.25 333.96L195.75 333.66L197.26 333.35L198.76 333.05L200.26 332.75L201.76 332.45L203.26 332.15L204.77 331.86L206.27 331.57L207.77 331.29L209.27 331.01L210.77 330.73L212.28 330.45L213.78 330.18L215.28 329.91L216.78 329.65L218.28 329.38L219.78 329.13L221.29 328.87L222.79 328.62L224.29 328.38L225.79 328.13L227.29 327.89L228.80 327.66L230.30 327.43L231.80 327.20L233.30 326.98L234.80 326.76L236.31 326.55L237.81 326.34L239.31 326.14L240.81 325.94L242.31 325.74L243.81 325.55L245.32 325.37L246.82 325.19L248.32 325.01L249.82 324.84L251.32 324.67L252.83 324.51L254.33 324.36L255.83 324.21L257.33 324.06L258.83 323.92L260.34 323.78L261.84 323.65L263.34 323.53L264.84 323.41L266.34 323.29L267.84 323.18L269.35 323.07L270.85 322.96L272.35 322.86L273.85 322.77L275.35 322.68L276.86 322.59L278.36 322.50L279.86 322.42L281.36 322.34L282.86 322.27L284.37 322.19L285.87 322.13L287.37 322.06L288.87 322.00L290.37 321.94L291.87 321.88L293.38 321.82L294.88 321.77L296.38 321.72L297.88 321.67L299.38 321.62L300.89 321.58L302.39 321.53L303.89 321.49L305.39 321.45L306.89 321.42L308.40 321.38L309.90 321.34L311.40 321.31L312.90 321.27L314.40 321.24L315.90 321.21L317.41 321.18L318.91 321.15L320.41 321.12L321.91 321.09L323.41 321.06L324.92 321.03L326.42 321.00L327.92 320.97L329.42 320.94L330.92 320.91L332.43 320.87L333.93 320.84L335.43 320.81L336.93 320.78L338.43 320.74L339.93 320.71L341.44 320.67L342.94 320.64L344.44 320.60L345.94 320.56L347.44 320.51L348.95 320.47L350.45 320.43L351.95 320.38L353.45 320.33L354.95 320.28L356.46 320.22L357.96 320.17L359.46 320.11L360.96 320.05L362.46 319.98L363.96 319.92L365.47 319.85L366.97 319.78L368.47 319.70L369.97 319.62L371.47 319.54L372.98 319.45L374.48 319.36L375.98 319.27L377.48 319.17L378.98 319.07L380.49 318.97L381.99 318.86L383.49 318.74L384.99 318.63L386.49 318.50L387.99 318.38L389.50 318.25L391.00 318.11L392.50 317.97" stroke="#ff0000" stroke-width="1.45" stroke-dasharray="9.1 6.6"/>
<path d="M111.65 386.29L113.15 386.23L114.65 386.16L116.16 386.09L117.66 386.01L119.16 385.93L120.66 385.84L122.16 385.74L123.66 385.64L125.17 385.53L126.67 385.41L128.17 385.29L129.67 385.17L131.17 385.03L132.68 384.90L134.18 384.75L135.68 384.60L137.18 384.45L138.68 384.29L140.19 384.12L141.69 383.95L143.19 383.77L144.69 383.59L146.19 383.40L147.69 383.21L149.20 383.01L150.70 382.80L152.20 382.60L153.70 382.38L155.20 382.16L156.71 381.94L158.21 381.71L159.71 381.48L161.21 381.24L162.71 380.99L164.22 380.75L165.72 380.49L167.22 380.24L168.72 379.97L170.22 379.71L171.72 379.44L173.23 379.16L174.73 378.88L176.23 378.60L177.73 378.31L179.23 378.02L180.74 377.72L182.24 377.42L183.74 377.11L185.24 376.81L186.74 376.49L188.25 376.18L189.75 375.85L191.25 375.53L192.75 375.20L194.25 374.87L195.75 374.53L197.26 374.19L198.76 373.85L200.26 373.50L201.76 373.15L203.26 372.80L204.77 372.44L206.27 372.08L207.77 371.72L209.27 371.35L210.77 370.98L212.28 370.61L213.78 370.23L215.28 369.86L216.78 369.47L218.28 369.09L219.78 368.70L221.29 368.31L222.79 367.92L224.29 367.52L225.79 367.12L227.29 366.72L228.80 366.31L230.30 365.91L231.80 365.50L233.30 365.09L234.80 364.67L236.31 364.26L237.81 363.84L239.31 363.42L240.81 362.99L242.31 362.57L243.81 362.14L245.32 361.71L246.82 361.28L248.32 360.84L249.82 360.41L251.32 359.97L252.83 359.53L254.33 359.09L255.83 358.65L257.33 358.21L258.83 357.76L260.34 357.31L261.84 356.86L263.34 356.41L264.84 355.96L266.34 355.51L267.84 355.06L269.35 354.60L270.85 354.14L272.35 353.69L273.85 353.23L275.35 352.77L276.86 352.31L278.36 351.84L279.86 351.38L281.36 350.92L282.86 350.45L284.37 349.99L285.87 349.52L287.37 349.06L288.87 348.59L290.37 348.12L291.87 347.65L293.38 347.18L294.88 346.72L296.38 346.25L297.88 345.78L299.38 345.31L300.89 344.84L302.39 344.37L303.89 343.90L305.39 343.43L306.89 342.96L308.40 342.48L309.90 342.01L311.40 341.54L312.90 341.07L314.40 340.60L315.90 340.14L317.41 339.67L318.91 339.20L320.41 338.73L321.91 338.26L323.41 337.79L324.92 337.33L326.42 336.86L327.92 336.40L329.42 335.93L330.92 335.47L332.43 335.01L333.93 334.54L335.43 334.08L336.93 333.62L338.43 333.16L339.93 332.71L341.44 332.25L342.94 331.79L344.44 331.34L345.94 330.89L347.44 330.43L348.95 329.98L350.45 329.54L351.95 329.09L353.45 328.64L354.95 328.20L356.46 327.76L357.96 327.31L359.46 326.88L360.96 326.44L362.46 326.00L363.96 325.57L365.47 325.14L366.97 324.71L368.47 324.28L369.97 323.85L371.47 323.43L372.98 323.01L374.48 322.59L375.98 322.17L377.48 321.76L378.98 321.35L380.49 320.94L381.99 320.53L383.49 320.12L384.99 319.72L386.49 319.32L387.99 318.93L389.50 318.53L391.00 318.14L392.50 317.75" stroke="#ff0000" stroke-width="1.45"/>
<path d="M111.65 330.60L113.15 330.62L114.65 330.64L116.16 330.67L117.66 330.70L119.16 330.74L120.66 330.79L122.16 330.83L123.66 330.88L125.17 330.94L126.67 331.00L128.17 331.06L129.67 331.13L131.17 331.20L132.68 331.27L134.18 331.35L135.68 331.43L137.18 331.51L138.68 331.60L140.19 331.69L141.69 331.78L143.19 331.88L144.69 331.97L146.19 332.07L147.69 332.18L149.20 332.28L150.70 332.39L152.20 332.49L153.70 332.60L155.20 332.71L156.71 332.83L158.21 332.94L159.71 333.06L161.21 333.17L162.71 333.29L164.22 333.41L165.72 333.53L167.22 333.65L168.72 333.77L170.22 333.89L171.72 334.01L173.23 334.13L174.73 334.25L176.23 334.37L177.73 334.49L179.23 334.61L180.74 334.73L182.24 334.85L183.74 334.97L185.24 335.09L186.74 335.21L188.25 335.32L189.75 335.44L191.25 335.55L192.75 335.66L194.25 335.77L195.75 335.88L197.26 335.99L198.76 336.10L200.26 336.20L201.76 336.30L203.26 336.40L204.77 336.50L206.27 336.59L207.77 336.68L209.27 336.77L210.77 336.86L212.28 336.94L213.78 337.02L215.28 337.10L216.78 337.17L218.28 337.24L219.78 337.31L221.29 337.37L222.79 337.43L224.29 337.49L225.79 337.54L227.29 337.58L228.80 337.63L230.30 337.66L231.80 337.70L233.30 337.73L234.80 337.75L236.31 337.77L237.81 337.78L239.31 337.79L240.81 337.80L242.31 337.79L243.81 337.79L245.32 337.77L246.82 337.75L248.32 337.73L249.82 337.70L251.32 337.66L252.83 337.62L254.33 337.57L255.83 337.51L257.33 337.45L258.83 337.38L260.34 337.31L261.84 337.23L263.34 337.14L264.84 337.04L266.34 336.95L267.84 336.84L269.35 336.73L270.85 336.61L272.35 336.49L273.85 336.36L275.35 336.22L276.86 336.08L278.36 335.94L279.86 335.79L281.36 335.63L282.86 335.47L284.37 335.30L285.87 335.13L287.37 334.95L288.87 334.77L290.37 334.58L291.87 334.39L293.38 334.20L294.88 333.99L296.38 333.79L297.88 333.58L299.38 333.36L300.89 333.14L302.39 332.92L303.89 332.69L305.39 332.46L306.89 332.23L308.40 331.99L309.90 331.74L311.40 331.50L312.90 331.24L314.40 330.99L315.90 330.73L317.41 330.47L318.91 330.20L320.41 329.93L321.91 329.66L323.41 329.38L324.92 329.10L326.42 328.82L327.92 328.54L329.42 328.25L330.92 327.96L332.43 327.66L333.93 327.37L335.43 327.07L336.93 326.77L338.43 326.46L339.93 326.15L341.44 325.84L342.94 325.53L344.44 325.22L345.94 324.90L347.44 324.58L348.95 324.26L350.45 323.94L351.95 323.62L353.45 323.29L354.95 322.96L356.46 322.63L357.96 322.30L359.46 321.97L360.96 321.64L362.46 321.30L363.96 320.96L365.47 320.63L366.97 320.29L368.47 319.95L369.97 319.61L371.47 319.26L372.98 318.92L374.48 318.58L375.98 318.23L377.48 317.89L378.98 317.54L380.49 317.20L381.99 316.85L383.49 316.50L384.99 316.16L386.49 315.81L387.99 315.46L389.50 315.11L391.00 314.77L392.50 314.42" stroke="#0000ff" stroke-width="0.62"/>
<path d="M111.65 347.99L113.15 347.99L114.65 347.99L116.16 348.00L117.66 348.01L119.16 348.02L120.66 348.04L122.16 348.06L123.66 348.08L125.17 348.10L126.67 348.12L128.17 348.15L129.67 348.18L131.17 348.21L132.68 348.24L134.18 348.27L135.68 348.30L137.18 348.34L138.68 348.38L140.19 348.41L141.69 348.45L143.19 348.49L144.69 348.53L146.19 348.57L147.69 348.61L149.20 348.64L150.70 348.68L152.20 348.72L153.70 348.76L155.20 348.80L156.71 348.84L158.21 348.88L159.71 348.92L161.21 348.95L162.71 348.99L164.22 349.02L165.72 349.05L167.22 349.08L168.72 349.11L170.22 349.14L171.72 349.17L173.23 349.19L174.73 349.22L176.23 349.24L177.73 349.26L179.23 349.27L180.74 349.28L182.24 349.29L183.74 349.30L185.24 349.31L186.74 349.31L188.25 349.31L189.75 349.30L191.25 349.30L192.75 349.29L194.25 349.27L195.75 349.25L197.26 349.23L198.76 349.20L200.26 349.17L201.76 349.14L203.26 349.10L204.77 349.05L206.27 349.01L207.77 348.95L209.27 348.90L210.77 348.84L212.28 348.77L213.78 348.70L215.28 348.63L216.78 348.55L218.28 348.47L219.78 348.38L221.29 348.29L222.79 348.19L224.29 348.09L225.79 347.99L227.29 347.88L228.80 347.76L230.30 347.65L231.80 347.52L233.30 347.40L234.80 347.26L236.31 347.13L237.81 346.98L239.31 346.84L240.81 346.69L242.31 346.53L243.81 346.37L245.32 346.21L246.82 346.04L248.32 345.86L249.82 345.68L251.32 345.50L252.83 345.31L254.33 345.11L255.83 344.92L257.33 344.71L258.83 344.50L260.34 344.29L261.84 344.07L263.34 343.85L264.84 343.62L266.34 343.39L267.84 343.15L269.35 342.91L270.85 342.67L272.35 342.42L273.85 342.17L275.35 341.91L276.86 341.65L278.36 341.39L279.86 341.12L281.36 340.85L282.86 340.57L284.37 340.29L285.87 340.01L287.37 339.72L288.87 339.43L290.37 339.14L291.87 338.84L293.38 338.54L294.88 338.24L296.38 337.93L297.88 337.63L299.38 337.31L300.89 337.00L302.39 336.68L303.89 336.36L305.39 336.04L306.89 335.71L308.40 335.39L309.90 335.06L311.40 334.72L312.90 334.39L314.40 334.05L315.90 333.71L317.41 333.37L318.91 333.03L320.41 332.68L321.91 332.34L323.41 331.99L324.92 331.64L326.42 331.29L327.92 330.93L329.42 330.58L330.92 330.22L332.43 329.86L333.93 329.50L335.43 329.14L336.93 328.78L338.43 328.42L339.93 328.05L341.44 327.69L342.94 327.32L344.44 326.96L345.94 326.59L347.44 326.22L348.95 325.85L350.45 325.48L351.95 325.11L353.45 324.74L354.95 324.37L356.46 324.00L357.96 323.63L359.46 323.26L360.96 322.89L362.46 322.52L363.96 322.15L365.47 321.78L366.97 321.41L368.47 321.04L369.97 320.67L371.47 320.30L372.98 319.93L374.48 319.56L375.98 319.19L377.48 318.82L378.98 318.46L380.49 318.09L381.99 317.73L383.49 317.36L384.99 317.00L386.49 316.64L387.99 316.28L389.50 315.92L391.00 315.56L392.50 315.21" stroke="#0000ff" stroke-width="0.62"/>
<path d="M111.65 367.17L113.15 367.19L114.65 367.19L116.16 367.20L117.66 367.20L119.16 367.19L120.66 367.19L122.16 367.18L123.66 367.16L125.17 367.14L126.67 367.12L128.17 367.09L129.67 367.06L131.17 367.02L132.68 366.98L134.18 366.94L135.68 366.89L137.18 366.84L138.68 366.78L140.19 366.72L141.69 366.66L143.19 366.60L144.69 366.52L146.19 366.45L147.69 366.37L149.20 366.29L150.70 366.21L152.20 366.12L153.70 366.02L155.20 365.93L156.71 365.83L158.21 365.72L159.71 365.61L161.21 365.50L162.71 365.39L164.22 365.27L165.72 365.15L167.22 365.02L168.72 364.89L170.22 364.76L171.72 364.62L173.23 364.48L174.73 364.34L176.23 364.19L177.73 364.04L179.23 363.88L180.74 363.73L182.24 363.57L183.74 363.40L185.24 363.23L186.74 363.06L188.25 362.89L189.75 362.71L191.25 362.53L192.75 362.34L194.25 362.15L195.75 361.96L197.26 361.76L198.76 361.57L200.26 361.36L201.76 361.16L203.26 360.95L204.77 360.74L206.27 360.52L207.77 360.30L209.27 360.08L210.77 359.86L212.28 359.63L213.78 359.40L215.28 359.16L216.78 358.93L218.28 358.69L219.78 358.44L221.29 358.20L222.79 357.95L224.29 357.69L225.79 357.44L227.29 357.18L228.80 356.91L230.30 356.65L231.80 356.38L233.30 356.11L234.80 355.84L236.31 355.56L237.81 355.28L239.31 354.99L240.81 354.71L242.31 354.42L243.81 354.13L245.32 353.83L246.82 353.53L248.32 353.23L249.82 352.93L251.32 352.62L252.83 352.31L254.33 352.00L255.83 351.68L257.33 351.37L258.83 351.05L260.34 350.72L261.84 350.40L263.34 350.07L264.84 349.74L266.34 349.40L267.84 349.07L269.35 348.73L270.85 348.39L272.35 348.04L273.85 347.70L275.35 347.35L276.86 347.00L278.36 346.64L279.86 346.29L281.36 345.93L282.86 345.57L284.37 345.21L285.87 344.84L287.37 344.47L288.87 344.11L290.37 343.73L291.87 343.36L293.38 342.99L294.88 342.61L296.38 342.23L297.88 341.85L299.38 341.47L300.89 341.08L302.39 340.70L303.89 340.31L305.39 339.92L306.89 339.53L308.40 339.14L309.90 338.74L311.40 338.35L312.90 337.95L314.40 337.55L315.90 337.15L317.41 336.75L318.91 336.34L320.41 335.94L321.91 335.53L323.41 335.12L324.92 334.72L326.42 334.31L327.92 333.89L329.42 333.48L330.92 333.07L332.43 332.65L333.93 332.24L335.43 331.82L336.93 331.40L338.43 330.98L339.93 330.56L341.44 330.14L342.94 329.72L344.44 329.30L345.94 328.88L347.44 328.45L348.95 328.03L350.45 327.60L351.95 327.18L353.45 326.75L354.95 326.32L356.46 325.89L357.96 325.46L359.46 325.04L360.96 324.61L362.46 324.18L363.96 323.75L365.47 323.32L366.97 322.88L368.47 322.45L369.97 322.02L371.47 321.59L372.98 321.16L374.48 320.72L375.98 320.29L377.48 319.86L378.98 319.43L380.49 318.99L381.99 318.56L383.49 318.13L384.99 317.70L386.49 317.26L387.99 316.83L389.50 316.40L391.00 315.97L392.50 315.53" stroke="#0000ff" stroke-width="0.62"/>
<path d="M111.65 399.05L113.15 399.06L114.65 399.05L116.16 399.03L117.66 399.01L119.16 398.98L120.66 398.93L122.16 398.88L123.66 398.82L125.17 398.74L126.67 398.66L128.17 398.57L129.67 398.47L131.17 398.36L132.68 398.25L134.18 398.12L135.68 397.99L137.18 397.84L138.68 397.69L140.19 397.53L141.69 397.36L143.19 397.18L144.69 396.99L146.19 396.79L147.69 396.59L149.20 396.38L150.70 396.16L152.20 395.93L153.70 395.69L155.20 395.45L156.71 395.19L158.21 394.93L159.71 394.66L161.21 394.38L162.71 394.10L164.22 393.81L165.72 393.51L167.22 393.20L168.72 392.88L170.22 392.56L171.72 392.23L173.23 391.89L174.73 391.55L176.23 391.20L177.73 390.84L179.23 390.47L180.74 390.10L182.24 389.72L183.74 389.33L185.24 388.93L186.74 388.53L188.25 388.13L189.75 387.71L191.25 387.29L192.75 386.86L194.25 386.43L195.75 385.99L197.26 385.55L198.76 385.10L200.26 384.64L201.76 384.18L203.26 383.72L204.77 383.24L206.27 382.77L207.77 382.29L209.27 381.80L210.77 381.31L212.28 380.82L213.78 380.32L215.28 379.82L216.78 379.31L218.28 378.80L219.78 378.29L221.29 377.77L222.79 377.25L224.29 376.73L225.79 376.20L227.29 375.67L228.80 375.14L230.30 374.61L231.80 374.07L233.30 373.53L234.80 372.99L236.31 372.45L237.81 371.91L239.31 371.36L240.81 370.81L242.31 370.26L243.81 369.71L245.32 369.16L246.82 368.61L248.32 368.05L249.82 367.49L251.32 366.94L252.83 366.38L254.33 365.82L255.83 365.26L257.33 364.69L258.83 364.13L260.34 363.57L261.84 363.00L263.34 362.44L264.84 361.87L266.34 361.30L267.84 360.74L269.35 360.17L270.85 359.60L272.35 359.03L273.85 358.46L275.35 357.89L276.86 357.32L278.36 356.75L279.86 356.18L281.36 355.61L282.86 355.04L284.37 354.47L285.87 353.90L287.37 353.33L288.87 352.76L290.37 352.19L291.87 351.62L293.38 351.05L294.88 350.48L296.38 349.91L297.88 349.35L299.38 348.78L300.89 348.21L302.39 347.65L303.89 347.08L305.39 346.52L306.89 345.95L308.40 345.39L309.90 344.83L311.40 344.27L312.90 343.71L314.40 343.15L315.90 342.59L317.41 342.04L318.91 341.48L320.41 340.93L321.91 340.38L323.41 339.83L324.92 339.28L326.42 338.73L327.92 338.18L329.42 337.64L330.92 337.10L332.43 336.56L333.93 336.02L335.43 335.48L336.93 334.95L338.43 334.41L339.93 333.88L341.44 333.36L342.94 332.83L344.44 332.31L345.94 331.79L347.44 331.27L348.95 330.75L350.45 330.24L351.95 329.73L353.45 329.23L354.95 328.72L356.46 328.22L357.96 327.73L359.46 327.23L360.96 326.74L362.46 326.25L363.96 325.77L365.47 325.29L366.97 324.81L368.47 324.34L369.97 323.87L371.47 323.41L372.98 322.95L374.48 322.49L375.98 322.04L377.48 321.59L378.98 321.15L380.49 320.71L381.99 320.27L383.49 319.84L384.99 319.41L386.49 318.99L387.99 318.58L389.50 318.16L391.00 317.76L392.50 317.36" stroke="#0000ff" stroke-width="0.62"/>
<path d="M111.65 576.99L113.15 576.88L114.65 576.77L116.16 576.66L117.66 576.55L119.16 576.44L120.66 576.33L122.16 576.22L123.66 576.10L125.17 575.99L126.67 575.88L128.17 575.76L129.67 575.64L131.17 575.51L132.68 575.39L134.18 575.26L135.68 575.12L137.18 574.99L138.68 574.84L140.19 574.69L141.69 574.54L143.19 574.38L144.69 574.21L146.19 574.04L147.69 573.86L149.20 573.67L150.70 573.48L152.20 573.27L153.70 573.06L155.20 572.84L156.71 572.61L158.21 572.37L159.71 572.12L161.21 571.86L162.71 571.59L164.22 571.30L165.72 571.01L167.22 570.70L168.72 570.38L170.22 570.05L171.72 569.71L173.23 569.35L174.73 568.97L176.23 568.59L177.73 568.19L179.23 567.77L180.74 567.34L182.24 566.89L183.74 566.43L185.24 565.95L186.74 565.45L188.25 564.94L189.75 564.41L191.25 563.86L192.75 563.29L194.25 562.70L195.75 562.09L197.26 561.47L198.76 560.82L200.26 560.16L201.76 559.47L203.26 558.76L204.77 558.04L206.27 557.29L207.77 556.53L209.27 555.74L210.77 554.94L212.28 554.12L213.78 553.27L215.28 552.41L216.78 551.54L218.28 550.64L219.78 549.72L221.29 548.79L222.79 547.84L224.29 546.87L225.79 545.88L227.29 544.87L228.80 543.85L230.30 542.81L231.80 541.76L233.30 540.68L234.80 539.59L236.31 538.49L237.81 537.36L239.31 536.22L240.81 535.07L242.31 533.89L243.81 532.71L245.32 531.50L246.82 530.28L248.32 529.05L249.82 527.80L251.32 526.54L252.83 525.26L254.33 523.96L255.83 522.65L257.33 521.33L258.83 519.99L260.34 518.64L261.84 517.27L263.34 515.89L264.84 514.50L266.34 513.09L267.84 511.67L269.35 510.24L270.85 508.79L272.35 507.33L273.85 505.86L275.35 504.38L276.86 502.88L278.36 501.37L279.86 499.85L281.36 498.31L282.86 496.76L284.37 495.21L285.87 493.64L287.37 492.06L288.87 490.46L290.37 488.86L291.87 487.25L293.38 485.62L294.88 483.99L296.38 482.35L297.88 480.71L299.38 479.06L300.89 477.40L302.39 475.74L303.89 474.08L305.39 472.42L306.89 470.76L308.40 469.10L309.90 467.45L311.40 465.80L312.90 464.15L314.40 462.51L315.90 460.87L317.41 459.25L318.91 457.63L320.41 456.02L321.91 454.43L323.41 452.84L324.92 451.27L326.42 449.72L327.92 448.18L329.42 446.66L330.92 445.15L332.43 443.67L333.93 442.21L335.43 440.76L336.93 439.34L338.43 437.95L339.93 436.57L341.44 435.23L342.94 433.91L344.44 432.62L345.94 431.36L347.44 430.13L348.95 428.93L350.45 427.76L351.95 426.62L353.45 425.53L354.95 424.46L356.46 423.44L357.96 422.45L359.46 421.50L360.96 420.59L362.46 419.72L363.96 418.90L365.47 418.11L366.97 417.38L368.47 416.69L369.97 416.04L371.47 415.45L372.98 414.90L374.48 414.40L375.98 413.96L377.48 413.56L378.98 413.22L380.49 412.94L381.99 412.71L383.49 412.54L384.99 412.42L386.49 412.37L387.99 412.38L389.50 412.44L391.00 412.57L392.50 412.76" stroke="#ff0000" stroke-width="1.45"/>
<path d="M111.65 577.73L113.15 577.53L114.66 577.32L116.16 577.12L117.67 576.91L119.17 576.70L120.67 576.49L122.18 576.28L123.68 576.06L125.19 575.84L126.69 575.62L128.19 575.39L129.70 575.15L131.20 574.91L132.71 574.67L134.21 574.42L135.71 574.16L137.22 573.90L138.72 573.62L140.23 573.34L141.73 573.05L143.23 572.76L144.74 572.45L146.24 572.13L147.75 571.80L149.25 571.46L150.75 571.11L152.26 570.75L153.76 570.37L155.27 569.99L156.77 569.59L158.27 569.17L159.78 568.75L161.28 568.31L162.79 567.86L164.29 567.39L165.79 566.92L167.30 566.43L168.80 565.93L170.31 565.42L171.81 564.89L173.31 564.35L174.82 563.81L176.32 563.24L177.83 562.67L179.33 562.08L180.83 561.49L182.34 560.88L183.84 560.26L185.35 559.62L186.85 558.98L188.35 558.32L189.86 557.65L191.36 556.97L192.87 556.28L194.37 555.58L195.87 554.86L197.38 554.14L198.88 553.40L200.39 552.65L201.89 551.89L203.39 551.12L204.90 550.34L206.40 549.54L207.91 548.74L209.41 547.92L210.91 547.10L212.42 546.26L213.92 545.41L215.43 544.55L216.93 543.68L218.43 542.80L219.94 541.91L221.44 541.00L222.95 540.09L224.45 539.17L225.95 538.23L227.46 537.28L228.96 536.32L230.47 535.35L231.97 534.37L233.47 533.38L234.98 532.37L236.48 531.35L237.99 530.32L239.49 529.28L240.99 528.22L242.50 527.15L244.00 526.07L245.51 524.97L247.01 523.86L248.51 522.74L250.02 521.60L251.52 520.45L253.03 519.28L254.53 518.10L256.03 516.91L257.54 515.70L259.04 514.47L260.54 513.23L262.05 511.98L263.55 510.70L265.06 509.42L266.56 508.12L268.06 506.80L269.57 505.46L271.07 504.11L272.58 502.74L274.08 501.36L275.58 499.96L277.09 498.54L278.59 497.10L280.10 495.65L281.60 494.18L283.10 492.69L284.61 491.19L286.11 489.66L287.62 488.12L289.12 486.56L290.62 484.98L292.13 483.38L293.63 481.77L295.14 480.14L296.64 478.50L298.14 476.84L299.65 475.18L301.15 473.50L302.66 471.82L304.16 470.13L305.66 468.43L307.17 466.73L308.67 465.03L310.18 463.33L311.68 461.63L313.18 459.93L314.69 458.24L316.19 456.55L317.70 454.87L319.20 453.19L320.70 451.53L322.21 449.87L323.71 448.23L325.22 446.60L326.72 444.99L328.22 443.39L329.73 441.82L331.23 440.26L332.74 438.72L334.24 437.21L335.74 435.71L337.25 434.25L338.75 432.80L340.26 431.39L341.76 430.00L343.26 428.64L344.77 427.32L346.27 426.02L347.78 424.76L349.28 423.53L350.78 422.33L352.29 421.18L353.79 420.05L355.30 418.97L356.80 417.93L358.30 416.93L359.81 415.97L361.31 415.06L362.82 414.19L364.32 413.36L365.82 412.58L367.33 411.86L368.83 411.18L370.34 410.55L371.84 409.97L373.34 409.44L374.85 408.97L376.35 408.56L377.86 408.20L379.36 407.90L380.86 407.66L382.37 407.48L383.87 407.35L385.38 407.30L386.88 407.30L388.38 407.37L389.89 407.51L391.39 407.71L392.90 407.98L394.40 408.33" stroke="#0000ff" stroke-width="0.62"/>
<path d="M111.65 576.96L113.15 576.96L114.65 576.94L116.16 576.91L117.66 576.87L119.16 576.81L120.66 576.74L122.16 576.66L123.66 576.57L125.17 576.46L126.67 576.34L128.17 576.21L129.67 576.06L131.17 575.90L132.68 575.73L134.18 575.55L135.68 575.35L137.18 575.14L138.68 574.92L140.19 574.69L141.69 574.44L143.19 574.18L144.69 573.91L146.19 573.62L147.69 573.32L149.20 573.01L150.70 572.69L152.20 572.35L153.70 572.00L155.20 571.64L156.71 571.27L158.21 570.88L159.71 570.48L161.21 570.07L162.71 569.64L164.22 569.20L165.72 568.75L167.22 568.29L168.72 567.81L170.22 567.33L171.72 566.82L173.23 566.31L174.73 565.78L176.23 565.24L177.73 564.69L179.23 564.12L180.74 563.55L182.24 562.96L183.74 562.35L185.24 561.74L186.74 561.11L188.25 560.47L189.75 559.81L191.25 559.15L192.75 558.47L194.25 557.77L195.75 557.07L197.26 556.35L198.76 555.62L200.26 554.88L201.76 554.12L203.26 553.36L204.77 552.57L206.27 551.78L207.77 550.98L209.27 550.16L210.77 549.32L212.28 548.48L213.78 547.62L215.28 546.75L216.78 545.87L218.28 544.98L219.78 544.07L221.29 543.15L222.79 542.22L224.29 541.27L225.79 540.31L227.29 539.34L228.80 538.36L230.30 537.36L231.80 536.35L233.30 535.33L234.80 534.30L236.31 533.25L237.81 532.19L239.31 531.12L240.81 530.04L242.31 528.94L243.81 527.83L245.32 526.71L246.82 525.57L248.32 524.42L249.82 523.26L251.32 522.09L252.83 520.90L254.33 519.71L255.83 518.50L257.33 517.27L258.83 516.04L260.34 514.79L261.84 513.53L263.34 512.25L264.84 510.96L266.34 509.67L267.84 508.35L269.35 507.03L270.85 505.69L272.35 504.34L273.85 502.98L275.35 501.61L276.86 500.22L278.36 498.82L279.86 497.40L281.36 495.98L282.86 494.54L284.37 493.09L285.87 491.63L287.37 490.15L288.87 488.66L290.37 487.16L291.87 485.65L293.38 484.13L294.88 482.59L296.38 481.05L297.88 479.50L299.38 477.94L300.89 476.38L302.39 474.81L303.89 473.24L305.39 471.66L306.89 470.09L308.40 468.52L309.90 466.94L311.40 465.37L312.90 463.80L314.40 462.24L315.90 460.68L317.41 459.13L318.91 457.59L320.41 456.06L321.91 454.53L323.41 453.02L324.92 451.52L326.42 450.04L327.92 448.57L329.42 447.11L330.92 445.67L332.43 444.25L333.93 442.85L335.43 441.47L336.93 440.11L338.43 438.77L339.93 437.46L341.44 436.17L342.94 434.91L344.44 433.67L345.94 432.46L347.44 431.28L348.95 430.14L350.45 429.02L351.95 427.94L353.45 426.89L354.95 425.87L356.46 424.89L357.96 423.95L359.46 423.04L360.96 422.18L362.46 421.36L363.96 420.57L365.47 419.83L366.97 419.14L368.47 418.49L369.97 417.88L371.47 417.33L372.98 416.82L374.48 416.36L375.98 415.95L377.48 415.59L378.98 415.29L380.49 415.04L381.99 414.84L383.49 414.70L384.99 414.62L386.49 414.60L387.99 414.64L389.50 414.73L391.00 414.89L392.50 415.11" stroke="#0000ff" stroke-width="0.62"/>
<path d="M111.65 577.31L113.15 577.20L114.65 577.09L116.16 576.98L117.66 576.86L119.16 576.74L120.66 576.62L122.16 576.49L123.66 576.36L125.17 576.22L126.67 576.08L128.17 575.94L129.67 575.79L131.17 575.63L132.68 575.47L134.18 575.30L135.68 575.13L137.18 574.95L138.68 574.76L140.19 574.57L141.69 574.36L143.19 574.15L144.69 573.94L146.19 573.71L147.69 573.48L149.20 573.23L150.70 572.98L152.20 572.72L153.70 572.45L155.20 572.17L156.71 571.88L158.21 571.57L159.71 571.26L161.21 570.94L162.71 570.60L164.22 570.25L165.72 569.89L167.22 569.52L168.72 569.14L170.22 568.74L171.72 568.33L173.23 567.91L174.73 567.47L176.23 567.02L177.73 566.55L179.23 566.07L180.74 565.58L182.24 565.07L183.74 564.54L185.24 564.00L186.74 563.44L188.25 562.87L189.75 562.28L191.25 561.67L192.75 561.05L194.25 560.40L195.75 559.75L197.26 559.07L198.76 558.37L200.26 557.66L201.76 556.93L203.26 556.17L204.77 555.41L206.27 554.62L207.77 553.81L209.27 552.99L210.77 552.15L212.28 551.30L213.78 550.42L215.28 549.53L216.78 548.62L218.28 547.70L219.78 546.76L221.29 545.80L222.79 544.83L224.29 543.84L225.79 542.84L227.29 541.82L228.80 540.78L230.30 539.73L231.80 538.67L233.30 537.59L234.80 536.49L236.31 535.38L237.81 534.26L239.31 533.12L240.81 531.97L242.31 530.81L243.81 529.63L245.32 528.44L246.82 527.23L248.32 526.01L249.82 524.78L251.32 523.53L252.83 522.28L254.33 521.01L255.83 519.72L257.33 518.43L258.83 517.12L260.34 515.80L261.84 514.47L263.34 513.13L264.84 511.78L266.34 510.42L267.84 509.04L269.35 507.66L270.85 506.26L272.35 504.85L273.85 503.44L275.35 502.01L276.86 500.57L278.36 499.13L279.86 497.67L281.36 496.21L282.86 494.73L284.37 493.25L285.87 491.75L287.37 490.25L288.87 488.74L290.37 487.22L291.87 485.70L293.38 484.16L294.88 482.62L296.38 481.08L297.88 479.53L299.38 477.98L300.89 476.42L302.39 474.87L303.89 473.31L305.39 471.76L306.89 470.20L308.40 468.65L309.90 467.10L311.40 465.56L312.90 464.02L314.40 462.49L315.90 460.97L317.41 459.45L318.91 457.95L320.41 456.45L321.91 454.97L323.41 453.49L324.92 452.04L326.42 450.59L327.92 449.16L329.42 447.75L330.92 446.35L332.43 444.97L333.93 443.62L335.43 442.28L336.93 440.96L338.43 439.66L339.93 438.39L341.44 437.14L342.94 435.92L344.44 434.72L345.94 433.55L347.44 432.40L348.95 431.29L350.45 430.20L351.95 429.15L353.45 428.12L354.95 427.13L356.46 426.17L357.96 425.25L359.46 424.36L360.96 423.51L362.46 422.70L363.96 421.92L365.47 421.19L366.97 420.49L368.47 419.84L369.97 419.23L371.47 418.66L372.98 418.14L374.48 417.66L375.98 417.22L377.48 416.84L378.98 416.50L380.49 416.21L381.99 415.97L383.49 415.79L384.99 415.65L386.49 415.57L387.99 415.54L389.50 415.56L391.00 415.64L392.50 415.78" stroke="#0000ff" stroke-width="0.62"/>
<path d="M111.65 577.14L113.15 577.05L114.65 576.97L116.16 576.88L117.66 576.80L119.16 576.71L120.66 576.62L122.16 576.52L123.66 576.42L125.17 576.32L126.67 576.22L128.17 576.11L129.67 575.99L131.17 575.87L132.68 575.75L134.18 575.62L135.68 575.49L137.18 575.34L138.68 575.20L140.19 575.04L141.69 574.88L143.19 574.71L144.69 574.53L146.19 574.35L147.69 574.16L149.20 573.95L150.70 573.74L152.20 573.52L153.70 573.29L155.20 573.05L156.71 572.80L158.21 572.54L159.71 572.26L161.21 571.98L162.71 571.68L164.22 571.37L165.72 571.05L167.22 570.72L168.72 570.37L170.22 570.01L171.72 569.63L173.23 569.25L174.73 568.84L176.23 568.42L177.73 567.99L179.23 567.54L180.74 567.08L182.24 566.60L183.74 566.10L185.24 565.59L186.74 565.06L188.25 564.51L189.75 563.94L191.25 563.36L192.75 562.75L194.25 562.13L195.75 561.49L197.26 560.83L198.76 560.15L200.26 559.45L201.76 558.73L203.26 557.99L204.77 557.23L206.27 556.45L207.77 555.65L209.27 554.84L210.77 554.00L212.28 553.15L213.78 552.28L215.28 551.39L216.78 550.48L218.28 549.55L219.78 548.61L221.29 547.65L222.79 546.67L224.29 545.68L225.79 544.66L227.29 543.64L228.80 542.59L230.30 541.53L231.80 540.46L233.30 539.36L234.80 538.26L236.31 537.14L237.81 536.00L239.31 534.85L240.81 533.68L242.31 532.50L243.81 531.30L245.32 530.09L246.82 528.87L248.32 527.63L249.82 526.38L251.32 525.12L252.83 523.84L254.33 522.55L255.83 521.25L257.33 519.94L258.83 518.61L260.34 517.27L261.84 515.92L263.34 514.56L264.84 513.19L266.34 511.80L267.84 510.41L269.35 509.00L270.85 507.59L272.35 506.16L273.85 504.72L275.35 503.27L276.86 501.82L278.36 500.35L279.86 498.88L281.36 497.39L282.86 495.90L284.37 494.39L285.87 492.88L287.37 491.36L288.87 489.84L290.37 488.30L291.87 486.76L293.38 485.21L294.88 483.65L296.38 482.09L297.88 480.53L299.38 478.96L300.89 477.40L302.39 475.83L303.89 474.26L305.39 472.69L306.89 471.13L308.40 469.56L309.90 468.01L311.40 466.45L312.90 464.91L314.40 463.36L315.90 461.83L317.41 460.31L318.91 458.79L320.41 457.29L321.91 455.80L323.41 454.32L324.92 452.86L326.42 451.40L327.92 449.97L329.42 448.55L330.92 447.15L332.43 445.77L333.93 444.40L335.43 443.06L336.93 441.74L338.43 440.44L339.93 439.16L341.44 437.91L342.94 436.68L344.44 435.48L345.94 434.31L347.44 433.16L348.95 432.05L350.45 430.96L351.95 429.90L353.45 428.88L354.95 427.89L356.46 426.93L357.96 426.01L359.46 425.12L360.96 424.27L362.46 423.46L363.96 422.69L365.47 421.95L366.97 421.26L368.47 420.61L369.97 420.00L371.47 419.43L372.98 418.91L374.48 418.43L375.98 418.00L377.48 417.62L378.98 417.28L380.49 417.00L381.99 416.76L383.49 416.58L384.99 416.44L386.49 416.37L387.99 416.34L389.50 416.37L391.00 416.45L392.50 416.60" stroke="#0000ff" stroke-width="0.62"/>
<path d="M111.65 577.80L113.15 577.59L114.65 577.39L116.16 577.19L117.66 577.01L119.16 576.84L120.66 576.67L122.16 576.51L123.66 576.36L125.17 576.21L126.67 576.07L128.17 575.94L129.67 575.81L131.17 575.68L132.68 575.56L134.18 575.43L135.68 575.31L137.18 575.20L138.68 575.08L140.19 574.96L141.69 574.84L143.19 574.72L144.69 574.60L146.19 574.47L147.69 574.34L149.20 574.21L150.70 574.07L152.20 573.93L153.70 573.78L155.20 573.62L156.71 573.46L158.21 573.29L159.71 573.11L161.21 572.93L162.71 572.73L164.22 572.52L165.72 572.30L167.22 572.07L168.72 571.83L170.22 571.57L171.72 571.30L173.23 571.02L174.73 570.72L176.23 570.40L177.73 570.07L179.23 569.72L180.74 569.36L182.24 568.98L183.74 568.58L185.24 568.15L186.74 567.71L188.25 567.25L189.75 566.77L191.25 566.26L192.75 565.74L194.25 565.19L195.75 564.61L197.26 564.01L198.76 563.39L200.26 562.74L201.76 562.06L203.26 561.36L204.77 560.64L206.27 559.89L207.77 559.11L209.27 558.32L210.77 557.50L212.28 556.65L213.78 555.79L215.28 554.90L216.78 553.99L218.28 553.05L219.78 552.10L221.29 551.12L222.79 550.13L224.29 549.11L225.79 548.08L227.29 547.02L228.80 545.94L230.30 544.85L231.80 543.74L233.30 542.61L234.80 541.46L236.31 540.29L237.81 539.10L239.31 537.90L240.81 536.68L242.31 535.45L243.81 534.20L245.32 532.93L246.82 531.65L248.32 530.35L249.82 529.04L251.32 527.72L252.83 526.38L254.33 525.02L255.83 523.66L257.33 522.27L258.83 520.88L260.34 519.48L261.84 518.06L263.34 516.63L264.84 515.19L266.34 513.74L267.84 512.28L269.35 510.81L270.85 509.32L272.35 507.83L273.85 506.33L275.35 504.82L276.86 503.30L278.36 501.77L279.86 500.24L281.36 498.70L282.86 497.15L284.37 495.59L285.87 494.02L287.37 492.45L288.87 490.88L290.37 489.30L291.87 487.71L293.38 486.12L294.88 484.52L296.38 482.93L297.88 481.33L299.38 479.73L300.89 478.13L302.39 476.53L303.89 474.93L305.39 473.34L306.89 471.75L308.40 470.17L309.90 468.59L311.40 467.01L312.90 465.45L314.40 463.89L315.90 462.34L317.41 460.81L318.91 459.28L320.41 457.77L321.91 456.26L323.41 454.78L324.92 453.30L326.42 451.84L327.92 450.40L329.42 448.98L330.92 447.57L332.43 446.18L333.93 444.82L335.43 443.47L336.93 442.15L338.43 440.85L339.93 439.57L341.44 438.31L342.94 437.09L344.44 435.89L345.94 434.71L347.44 433.56L348.95 432.45L350.45 431.36L351.95 430.30L353.45 429.28L354.95 428.29L356.46 427.33L357.96 426.40L359.46 425.51L360.96 424.66L362.46 423.84L363.96 423.07L365.47 422.33L366.97 421.63L368.47 420.98L369.97 420.37L371.47 419.81L372.98 419.29L374.48 418.82L375.98 418.41L377.48 418.05L378.98 417.74L380.49 417.49L381.99 417.29L383.49 417.16L384.99 417.09L386.49 417.08L387.99 417.13L389.50 417.25L391.00 417.43L392.50 417.69" stroke="#0000ff" stroke-width="0.62"/>
</g>
<path d="M105.30 27.60L394.50 27.60M105.30 585.30L394.50 585.30M105.30 27.10L105.30 585.80M394.50 27.10L394.50 585.80M105.30 213.60L394.50 213.60M105.30 399.60L394.50 399.60M111.65 27.60L111.65 41.20M111.65 200.00L111.65 227.20M111.65 386.00L111.65 413.20M111.65 571.70L111.65 585.30M154.23 27.60L154.23 34.40M154.23 206.80L154.23 220.40M154.23 392.80L154.23 406.40M154.23 578.50L154.23 585.30M179.14 27.60L179.14 34.40M179.14 206.80L179.14 220.40M179.14 392.80L179.14 406.40M179.14 578.50L179.14 585.30M196.81 27.60L196.81 34.40M196.81 206.80L196.81 220.40M196.81 392.80L196.81 406.40M196.81 578.50L196.81 585.30M210.52 27.60L210.52 34.40M210.52 206.80L210.52 220.40M210.52 392.80L210.52 406.40M210.52 578.50L210.52 585.30M221.72 27.60L221.72 34.40M221.72 206.80L221.72 220.40M221.72 392.80L221.72 406.40M221.72 578.50L221.72 585.30M231.19 27.60L231.19 34.40M231.19 206.80L231.19 220.40M231.19 392.80L231.19 406.40M231.19 578.50L231.19 585.30M239.39 27.60L239.39 34.40M239.39 206.80L239.39 220.40M239.39 392.80L239.39 406.40M239.39 578.50L239.39 585.30M246.63 27.60L246.63 34.40M246.63 206.80L246.63 220.40M246.63 392.80L246.63 406.40M246.63 578.50L246.63 585.30M253.10 27.60L253.10 41.20M253.10 200.00L253.10 227.20M253.10 386.00L253.10 413.20M253.10 571.70L253.10 585.30M295.68 27.60L295.68 34.40M295.68 206.80L295.68 220.40M295.68 392.80L295.68 406.40M295.68 578.50L295.68 585.30M320.59 27.60L320.59 34.40M320.59 206.80L320.59 220.40M320.59 392.80L320.59 406.40M320.59 578.50L320.59 585.30M338.26 27.60L338.26 34.40M338.26 206.80L338.26 220.40M338.26 392.80L338.26 406.40M338.26 578.50L338.26 585.30M351.97 27.60L351.97 34.40M351.97 206.80L351.97 220.40M351.97 392.80L351.97 406.40M351.97 578.50L351.97 585.30M363.17 27.60L363.17 34.40M363.17 206.80L363.17 220.40M363.17 392.80L363.17 406.40M363.17 578.50L363.17 585.30M372.64 27.60L372.64 34.40M372.64 206.80L372.64 220.40M372.64 392.80L372.64 406.40M372.64 578.50L372.64 585.30M380.84 27.60L380.84 34.40M380.84 206.80L380.84 220.40M380.84 392.80L380.84 406.40M380.84 578.50L380.84 585.30M388.08 27.60L388.08 34.40M388.08 206.80L388.08 220.40M388.08 392.80L388.08 406.40M388.08 578.50L388.08 585.30M105.30 206.45L112.10 206.45M387.70 206.45L394.50 206.45M105.30 199.31L112.10 199.31M387.70 199.31L394.50 199.31M105.30 192.16L112.10 192.16M387.70 192.16L394.50 192.16M105.30 177.88L112.10 177.88M387.70 177.88L394.50 177.88M105.30 170.73L112.10 170.73M387.70 170.73L394.50 170.73M105.30 163.58L112.10 163.58M387.70 163.58L394.50 163.58M105.30 149.29L112.10 149.29M387.70 149.29L394.50 149.29M105.30 142.15L112.10 142.15M387.70 142.15L394.50 142.15M105.30 135.00L112.10 135.00M387.70 135.00L394.50 135.00M105.30 120.71L112.10 120.71M387.70 120.71L394.50 120.71M105.30 113.57L112.10 113.57M387.70 113.57L394.50 113.57M105.30 106.42L112.10 106.42M387.70 106.42L394.50 106.42M105.30 92.13L112.10 92.13M387.70 92.13L394.50 92.13M105.30 84.99L112.10 84.99M387.70 84.99L394.50 84.99M105.30 77.84L112.10 77.84M387.70 77.84L394.50 77.84M105.30 63.55L112.10 63.55M387.70 63.55L394.50 63.55M105.30 56.41L112.10 56.41M387.70 56.41L394.50 56.41M105.30 49.26L112.10 49.26M387.70 49.26L394.50 49.26M105.30 34.97L112.10 34.97M387.70 34.97L394.50 34.97M105.30 185.02L118.90 185.02M380.90 185.02L394.50 185.02M105.30 156.44L118.90 156.44M380.90 156.44L394.50 156.44M105.30 127.86L118.90 127.86M380.90 127.86L394.50 127.86M105.30 99.28L118.90 99.28M380.90 99.28L394.50 99.28M105.30 70.70L118.90 70.70M380.90 70.70L394.50 70.70M105.30 42.12L118.90 42.12M380.90 42.12L394.50 42.12M105.30 391.51L112.10 391.51M387.70 391.51L394.50 391.51M105.30 383.43L112.10 383.43M387.70 383.43L394.50 383.43M105.30 375.34L112.10 375.34M387.70 375.34L394.50 375.34M105.30 367.25L112.10 367.25M387.70 367.25L394.50 367.25M105.30 351.08L112.10 351.08M387.70 351.08L394.50 351.08M105.30 342.99L112.10 342.99M387.70 342.99L394.50 342.99M105.30 334.90L112.10 334.90M387.70 334.90L394.50 334.90M105.30 326.82L112.10 326.82M387.70 326.82L394.50 326.82M105.30 310.64L112.10 310.64M387.70 310.64L394.50 310.64M105.30 302.56L112.10 302.56M387.70 302.56L394.50 302.56M105.30 294.47L112.10 294.47M387.70 294.47L394.50 294.47M105.30 286.38L112.10 286.38M387.70 286.38L394.50 286.38M105.30 270.21L112.10 270.21M387.70 270.21L394.50 270.21M105.30 262.12L112.10 262.12M387.70 262.12L394.50 262.12M105.30 254.03L112.10 254.03M387.70 254.03L394.50 254.03M105.30 245.95L112.10 245.95M387.70 245.95L394.50 245.95M105.30 229.77L112.10 229.77M387.70 229.77L394.50 229.77M105.30 221.69L112.10 221.69M387.70 221.69L394.50 221.69M105.30 359.17L118.90 359.17M380.90 359.17L394.50 359.17M105.30 318.73L118.90 318.73M380.90 318.73L394.50 318.73M105.30 278.30L118.90 278.30M380.90 278.30L394.50 278.30M105.30 237.86L118.90 237.86M380.90 237.86L394.50 237.86M105.30 577.23L112.10 577.23M387.70 577.23L394.50 577.23M105.30 569.15L112.10 569.15M387.70 569.15L394.50 569.15M105.30 561.08L112.10 561.08M387.70 561.08L394.50 561.08M105.30 553.00L112.10 553.00M387.70 553.00L394.50 553.00M105.30 536.86L112.10 536.86M387.70 536.86L394.50 536.86M105.30 528.78L112.10 528.78M387.70 528.78L394.50 528.78M105.30 520.71L112.10 520.71M387.70 520.71L394.50 520.71M105.30 512.63L112.10 512.63M387.70 512.63L394.50 512.63M105.30 504.56L112.10 504.56M387.70 504.56L394.50 504.56M105.30 496.49L112.10 496.49M387.70 496.49L394.50 496.49M105.30 488.41L112.10 488.41M387.70 488.41L394.50 488.41M105.30 480.34L112.10 480.34M387.70 480.34L394.50 480.34M105.30 472.26L112.10 472.26M387.70 472.26L394.50 472.26M105.30 456.12L112.10 456.12M387.70 456.12L394.50 456.12M105.30 448.04L112.10 448.04M387.70 448.04L394.50 448.04M105.30 439.97L112.10 439.97M387.70 439.97L394.50 439.97M105.30 431.89L112.10 431.89M387.70 431.89L394.50 431.89M105.30 423.82L112.10 423.82M387.70 423.82L394.50 423.82M105.30 415.75L112.10 415.75M387.70 415.75L394.50 415.75M105.30 407.67L112.10 407.67M387.70 407.67L394.50 407.67M105.30 544.93L118.90 544.93M380.90 544.93L394.50 544.93M105.30 464.19L118.90 464.19M380.90 464.19L394.50 464.19" fill="none" stroke="#1a1a1a" stroke-width="1.1" stroke-linecap="butt"/>
<g fill="#151515" style="opacity:0.999">
<text transform="translate(93.40 49.02) scale(1.15 1)" x="0.60" y="0" font-size="21" text-anchor="end" letter-spacing="0.6">1.2</text>
<text transform="translate(92.40 77.60) scale(1.15 1)" x="0.60" y="0" font-size="21" text-anchor="end" letter-spacing="0.6">1</text>
<text transform="translate(93.40 106.18) scale(1.15 1)" x="0.60" y="0" font-size="21" text-anchor="end" letter-spacing="0.6">0.8</text>
<text transform="translate(93.40 134.76) scale(1.15 1)" x="0.60" y="0" font-size="21" text-anchor="end" letter-spacing="0.6">0.6</text>
<text transform="translate(93.40 163.34) scale(1.15 1)" x="0.60" y="0" font-size="21" text-anchor="end" letter-spacing="0.6">0.4</text>
<text transform="translate(93.40 191.92) scale(1.15 1)" x="0.60" y="0" font-size="21" text-anchor="end" letter-spacing="0.6">0.2</text>
<text transform="translate(93.40 220.50) scale(1.15 1)" x="0.60" y="0" font-size="21" text-anchor="end" letter-spacing="0.6">0</text>
<text transform="translate(93.40 244.76) scale(1.15 1)" x="0.60" y="0" font-size="21" text-anchor="end" letter-spacing="0.6">2</text>
<text transform="translate(93.40 285.19) scale(1.15 1)" x="0.60" y="0" font-size="21" text-anchor="end" letter-spacing="0.6">1.5</text>
<text transform="translate(92.40 325.63) scale(1.15 1)" x="0.60" y="0" font-size="21" text-anchor="end" letter-spacing="0.6">1</text>
<text transform="translate(93.40 366.06) scale(1.15 1)" x="0.60" y="0" font-size="21" text-anchor="end" letter-spacing="0.6">0.5</text>
<text transform="translate(93.40 406.50) scale(1.15 1)" x="0.60" y="0" font-size="21" text-anchor="end" letter-spacing="0.6">0</text>
<text transform="translate(93.40 471.09) scale(1.15 1)" x="0.60" y="0" font-size="21" text-anchor="end" letter-spacing="0.6">0.03</text>
<text transform="translate(93.40 551.83) scale(1.15 1)" x="0.60" y="0" font-size="21" text-anchor="end" letter-spacing="0.6">0.02</text>
<text transform="translate(110.65 611.00) scale(1.15 1)" x="0.30" y="0" font-size="21" text-anchor="middle" letter-spacing="0.6">0.1</text>
<text transform="translate(253.10 611.00) scale(1.15 1)" x="0.30" y="0" font-size="21" text-anchor="middle" letter-spacing="0.6">1</text>
<text transform="translate(394.55 611.00) scale(1.15 1)" x="0.30" y="0" font-size="21" text-anchor="middle" letter-spacing="0.6">10</text>
<text transform="translate(33.20 114.84) rotate(-90) scale(0.860 1)" font-size="21.99">T</text>
<text transform="translate(34.42 92.93) rotate(-90) scale(0.923 1)" font-size="26.76">[</text>
<text transform="translate(33.18 83.49) rotate(-90) scale(0.862 1)" font-size="22.33">G</text>
<text transform="translate(32.99 68.37) rotate(-90) scale(1.161 1)" font-size="21.42">e</text>
<text transform="translate(32.87 56.78) rotate(-90) scale(0.751 1)" font-size="21.50">V</text>
<text transform="translate(34.42 43.69) rotate(-90) scale(0.923 1)" font-size="26.76">]</text>
<text transform="translate(33.09 185.40) rotate(-90) scale(0.938 1)" font-size="21.97">5</text>
<text transform="translate(33.30 172.84) rotate(-90) scale(1.123 1)" font-size="22.71">m</text>
<text transform="translate(27.00 151.34) rotate(-90) scale(1.254 1)" font-size="13.37">r</text>
<text transform="translate(39.46 151.62) rotate(-90) scale(1.081 1)" font-size="13.93">s</text>
<text transform="translate(27.44 245.16) rotate(-90) scale(1.095 1)" font-size="16.05">g</text>
<text transform="translate(27.05 334.63) rotate(-90) scale(1.278 1)" font-size="15.80">s</text>
<text transform="translate(33.58 481.94) rotate(-90) scale(1.101 1)" font-size="22.33">S</text>
<text transform="translate(37.30 494.50) rotate(-90) scale(1.468 1)" font-size="30.65">/</text>
<text transform="translate(33.59 506.50) rotate(-90) scale(1.245 1)" font-size="21.62">s</text>
<text transform="translate(202.36 637.98) scale(1.317 1)" font-size="22.19" font-style="italic">τ</text>
<text transform="translate(224.77 639.36) scale(0.960 1)" font-size="25.74">[</text>
<text transform="translate(233.88 638.30) scale(1.284 1)" font-size="20.88">f</text>
<text transform="translate(242.79 638.30) scale(1.128 1)" font-size="21.65">m</text>
<text transform="translate(263.40 642.30) scale(1.459 1)" font-size="31.09">/</text>
<text transform="translate(277.10 638.09) scale(1.220 1)" font-size="21.42">c</text>
<text transform="translate(289.72 639.36) scale(0.942 1)" font-size="25.74">]</text>
</g>
<g role="img" aria-label="γ"><path d="M7.10 246.30L24.70 256.30M15.45 251.30L14.60 251.54L13.76 251.80L12.94 252.08L12.16 252.40L11.40 252.74L10.70 253.12L10.04 253.54L9.44 254.00L8.90 254.49L8.43 255.04L8.05 255.61L7.75 256.19L7.57 256.76L7.50 257.30L7.54 257.80L7.69 258.25L7.93 258.67L8.22 259.05L8.55 259.41L8.91 259.75L9.27 260.08L9.60 260.39L9.90 260.70" fill="none" stroke="#1a1a1a" stroke-width="1.15" stroke-linecap="round" stroke-linejoin="round"/></g>
<g role="img" aria-label="γ"><path d="M7.10 336.30L24.70 346.30M15.45 341.30L14.60 341.54L13.76 341.80L12.94 342.08L12.16 342.40L11.40 342.74L10.70 343.12L10.04 343.54L9.44 344.00L8.90 344.49L8.43 345.04L8.05 345.61L7.75 346.19L7.57 346.76L7.50 347.30L7.54 347.80L7.69 348.25L7.93 348.67L8.22 349.05L8.55 349.41L8.91 349.75L9.27 350.08L9.60 350.39L9.90 350.70" fill="none" stroke="#1a1a1a" stroke-width="1.15" stroke-linecap="round" stroke-linejoin="round"/></g>
</svg>
</body></html>
